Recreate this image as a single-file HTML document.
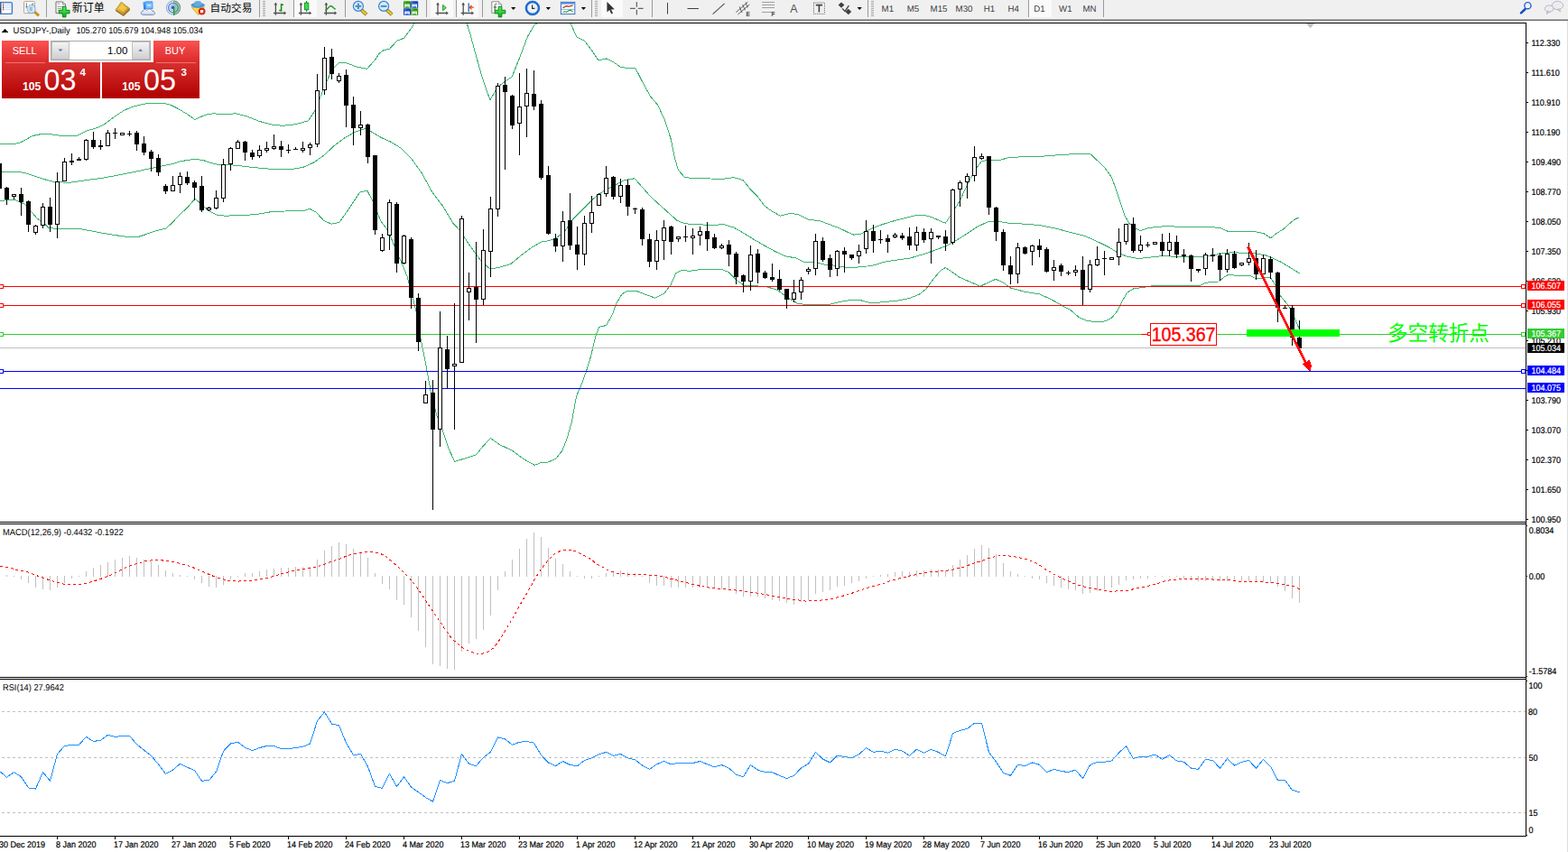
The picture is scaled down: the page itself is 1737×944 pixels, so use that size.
<!DOCTYPE html>
<html><head><meta charset="utf-8"><title>USDJPY Daily</title>
<style>
html,body{margin:0;padding:0;background:#fff;}
body{width:1737px;height:944px;position:relative;overflow:hidden;font-family:"Liberation Sans", sans-serif;}
.tb{position:absolute;left:0;top:0;width:1737px;height:20px;background:#f0f0f0;}
.tbl{position:absolute;left:0;width:1737px;height:1px;}
.rb{position:absolute;top:23px;width:1px;height:921px;}
</style></head><body>
<div class="tb"></div>
<div class="tbl" style="top:20px;background:#f4f4f4"></div>
<div class="tbl" style="top:21px;background:#b0b0b0"></div>
<div class="tbl" style="top:22px;background:#6c6c6c"></div>
<div class="rb" style="left:1735px;background:#fbfbfb"></div>
<div class="rb" style="left:1736px;background:#e0e0e0"></div>
<svg width="1737" height="944" viewBox="0 0 1737 944" style="position:absolute;left:0;top:0" font-family='"Liberation Sans", sans-serif' font-size="9">
<defs><clipPath id="c1"><rect x="0" y="26" width="1690" height="552"/></clipPath></defs>
<g clip-path="url(#c1)">
<path d="M0 159 L9 159 L18 159 L23.4 157.7 L36 150.5 L45 148.7 L54 148.4 L72 151 L86.4 150 L95.4 145.1 L108 141.5 L115.2 137.9 L126 129.8 L136.8 122.6 L147.6 118.1 L158.4 115.4 L169.2 114 L180 114 L189 116.3 L198 120.8 L207 126.2 L216 132.5 L226.8 127.5 L235.8 125.8 L248.4 126.6 L261.4 125.8 L272.9 128.7 L287.2 134.4 L301.5 138.1 L312.9 139.3 L327.2 137.8 L341.5 133.8 L348.7 123 L359.6 95.8 L367.6 77.2 L375.9 69.2 L384.4 70 L395.9 74.3 L406.7 76.3 L415.9 65.7 L420 59.6 L423.5 56.5 L425.5 55.4 L431.4 54.4 L435.2 50.3 L439.3 45.4 L443.5 43.7 L447.6 42.3 L451.8 36.4 L455.9 30.9 L458.7 26 L462 19 L480 -20 L500 -10 L516.9 25 L520.9 37.8 L525 53 L529.2 68.2 L533.3 82.7 L535.8 90.8 L542.9 110.8 L551.5 96.5 L558.6 90.8 L567.2 85.1 L575.8 63.6 L584.4 40.7 L591.5 28.4 L595.8 25 L605 5 L620 5 L631.6 25 L638.7 40.7 L647.3 45 L655.9 56.5 L663 67 L671.6 65 L680.2 69.3 L687.4 74.2 L697.4 75.9 L703.7 75.1 L711.7 90.8 L720.3 106.5 L728.8 116.5 L736 132.3 L743.1 153.7 L747.2 174.3 L751.5 188.6 L758.6 196.6 L773 197.8 L787.3 198 L798.7 198.6 L813 196.6 L823 199.5 L831.6 210.1 L838.7 217.2 L847.3 228.6 L855.9 234.4 L864.5 239.2 L875.9 236.4 L884.5 237.8 L895.9 243.5 L907.4 244.4 L918.8 248.7 L930.3 253 L941.7 258.5 L945.7 260.1 L952.9 259.6 L962.9 254.4 L977.2 248.7 L991.5 244.4 L1005.8 240.7 L1017.2 238.1 L1028.7 239.3 L1038.7 243.5 L1047.3 247.3 L1053 238.7 L1063 223 L1071.6 204.4 L1080.2 188.6 L1087.3 178.6 L1095.9 177.2 L1105.9 177.8 L1118.8 174.3 L1134.5 173.8 L1151.7 173.5 L1168.8 172 L1186 170.9 L1195.8 170.1 L1207.2 170.1 L1211 173.5 L1223.7 185.6 L1231.4 196.4 L1236.3 209.7 L1241.2 224.4 L1246 239 L1250.9 247.5 L1257 252.4 L1263.1 255.6 L1272.8 252.4 L1285 251.2 L1294.8 250 L1307 251.9 L1319.1 251.7 L1331.3 251.7 L1343.5 251.7 L1353.3 253.1 L1360.6 256.5 L1375.2 256.8 L1389.8 256.5 L1399.6 258.5 L1407.6 263.8 L1414.2 258.5 L1421.5 254.1 L1428.8 247.5 L1434.9 242.6 L1439.5 240.9" fill="none" stroke="#3cb371" stroke-width="1" stroke-linejoin="round" shape-rendering="crispEdges"/>
<path d="M0 190.1 L18 190.1 L27 191.4 L45 197.3 L55.8 200.6 L63 201.8 L77.4 202.2 L95.4 199.7 L115.2 197 L135 193.2 L154.8 189.2 L167.4 186.5 L180 183.8 L190.8 181.7 L198 179.3 L207 177.5 L216 176.3 L225 177.5 L234 180.6 L241.2 182.4 L252 182.4 L264.3 183.6 L278.6 185.3 L292.9 186.7 L310.1 187.9 L324.4 187.3 L335.8 185.3 L347.3 180.2 L358.7 172.2 L370.1 161.6 L381.6 153 L393 146.4 L404.5 142.4 L410.2 145.3 L421.6 152.1 L433.1 157.3 L444.5 164.4 L455.9 176 L467.4 192 L478.8 213 L490.3 228 L501.7 247 L510 256 L520.1 271.6 L531.5 287.3 L543 298.2 L554.4 295.9 L565.9 292.4 L577.3 283 L588.7 274.4 L600.2 267.8 L608.8 266.7 L617.3 263 L625.9 255.8 L634.5 243 L645.9 231.5 L657.4 220.1 L668.8 211.5 L680.3 205.8 L691.7 199.5 L702.9 197.8 L710 205.8 L721.5 218.6 L735.8 231.5 L750.1 244.4 L758.6 247.8 L773 248.7 L787.3 249.5 L801.6 248.7 L813 252.1 L824.4 258.7 L835.9 265.8 L847.3 272.4 L858.8 278.7 L870.2 283.9 L881.6 285.9 L890.2 290.1 L901.7 290.1 L913.1 293 L927.4 294.4 L938.9 296.7 L951.4 295.9 L965.7 294.5 L980 290.2 L994.3 287.9 L1008.6 285.9 L1023 281.6 L1037.3 276.7 L1048.7 272.2 L1060.1 265.9 L1071.6 258.7 L1083 251 L1094.5 245.8 L1104.5 245 L1117.3 247.3 L1134.5 248.1 L1151.7 249.6 L1168.8 253 L1183.1 256.7 L1199.7 260.9 L1209.5 264.6 L1219.2 269.4 L1229 274.3 L1238.7 280.4 L1248.5 284.1 L1260.7 286.5 L1272.8 285.3 L1287.5 283.6 L1299.6 284.1 L1314.3 284.6 L1328.9 284.6 L1341.1 283.3 L1353.3 280.9 L1365.4 279.7 L1380.1 280.4 L1392.2 281.1 L1402 282.8 L1409.3 285.8 L1419 290.2 L1428.8 296.2 L1439.5 302.8" fill="none" stroke="#3cb371" stroke-width="1" stroke-linejoin="round" shape-rendering="crispEdges"/>
<path d="M0 222.5 L9 221.6 L18 222 L27 226.1 L36 236 L41.4 242.4 L48.6 246.9 L54 252.3 L63 253.5 L88.2 253.5 L99 255.5 L115.2 258.6 L129.6 260.9 L142.2 262.5 L153 262.5 L162 259.5 L171 256.2 L183.6 253.2 L190.8 246.9 L198 238.8 L207 230.7 L216 220.2 L223.2 226.1 L230.4 233 L239.4 237.9 L248.4 239.1 L267.2 238.8 L284.3 237.4 L301.5 234.5 L318.6 233.9 L335.8 233.9 L343 231.1 L350.1 235.1 L358.7 244.5 L367.3 248.2 L375.9 246.5 L387.3 230.2 L398.7 213 L406.7 211 L413 223.1 L421.6 244.5 L430.2 256 L438.8 277.4 L445.7 293 L451.4 307.3 L457.2 330.2 L461.2 345.9 L466.5 377.7 L471.8 404.2 L477.1 433.3 L483.7 459.8 L490.3 477 L496.9 496.8 L503.6 511.4 L516.8 507.4 L527.4 504 L535.3 494.2 L543.3 485.5 L553.9 492.9 L567.1 499 L580.4 508.8 L592.3 515.4 L598.9 512.7 L606.8 512.2 L616.1 508 L622.7 499.5 L628 486.3 L633.3 467.7 L638.6 438.6 L643.9 426.7 L649.2 412.1 L654.5 394.9 L659.8 372.4 L663.8 362.3 L671.7 360.5 L678.3 348.5 L683.1 335.9 L688.9 325.9 L695.7 322.2 L704.3 322.2 L715.7 326.5 L725.8 330.2 L735.8 325 L742.9 315.9 L748.6 303 L754.4 299.6 L764.4 300.2 L775.8 298.7 L787.3 298.2 L798.7 298.2 L807.3 301.6 L815.9 310.2 L824.4 316.5 L837.3 316.8 L850.2 317.9 L861.6 321.6 L873.1 330.2 L884.5 336.8 L896 337.3 L918.8 337.3 L930.3 334.5 L941.7 332.5 L951.4 332.2 L965.7 335.9 L980 334.5 L994.3 333.1 L1008.6 330.2 L1018.7 325.9 L1025.8 320.2 L1034.4 308.8 L1041.5 300.2 L1047.3 296.5 L1053 300.2 L1063 307.3 L1074.4 312.2 L1085.9 317.3 L1094.5 313.1 L1103 309.3 L1111.6 313.1 L1118.8 318.8 L1134.5 323.1 L1151.7 325.9 L1163.1 331.1 L1174.6 337.4 L1186 343.7 L1196.1 352.3 L1204.6 355.5 L1214.4 356.7 L1224.1 355.9 L1231.4 352.3 L1237.5 345 L1242.4 335.2 L1248.5 324.3 L1255.8 319.9 L1268 318.2 L1277.7 316.5 L1328.8 316.5 L1333.6 314.2 L1341.2 312.2 L1350 312 L1355.7 307.2 L1360.6 304.3 L1370.3 305.3 L1384.6 305.3 L1391 308.6 L1398.6 308.6 L1403 307.4 L1407.5 307.4 L1413.2 316.6 L1415.4 324.3 L1421.5 331.6 L1427.6 338.9 L1433.7 351.1 L1439.5 365" fill="none" stroke="#3cb371" stroke-width="1" stroke-linejoin="round" shape-rendering="crispEdges"/>
</g>
<g shape-rendering="crispEdges">
<rect x="0" y="317" width="1690" height="1" fill="#ff0000"/>
<rect x="0" y="338" width="1690" height="1" fill="#ff0000"/>
<rect x="0" y="370" width="1690" height="1" fill="#32cd32"/>
<rect x="0" y="385" width="1690" height="1" fill="#c0c0c0"/>
<rect x="0" y="411" width="1690" height="1" fill="#0000ff"/>
<rect x="0" y="430" width="1690" height="1" fill="#0000ff"/>
</g>
<g shape-rendering="crispEdges" fill="#000">
<rect x="-1" y="181" width="1" height="28"/>
<rect x="-3" y="181" width="5" height="28"/>
<rect x="7" y="207" width="1" height="20"/>
<rect x="5" y="208" width="5" height="13"/>
<rect x="15" y="215" width="1" height="6"/>
<rect x="13" y="215" width="5" height="3"/>
<rect x="14" y="216" width="3" height="1" fill="#fff"/>
<rect x="23" y="208" width="1" height="31"/>
<rect x="21" y="215" width="5" height="9"/>
<rect x="31" y="222" width="1" height="35"/>
<rect x="29" y="223" width="5" height="26"/>
<rect x="39" y="249" width="1" height="11"/>
<rect x="37" y="250" width="5" height="8"/>
<rect x="38" y="251" width="3" height="6" fill="#fff"/>
<rect x="47" y="225" width="1" height="28"/>
<rect x="45" y="229" width="5" height="21"/>
<rect x="46" y="230" width="3" height="19" fill="#fff"/>
<rect x="55" y="219" width="1" height="38"/>
<rect x="53" y="229" width="5" height="20"/>
<rect x="63" y="191" width="1" height="73"/>
<rect x="61" y="201" width="5" height="48"/>
<rect x="62" y="202" width="3" height="46" fill="#fff"/>
<rect x="71" y="175" width="1" height="26"/>
<rect x="69" y="179" width="5" height="22"/>
<rect x="70" y="180" width="3" height="20" fill="#fff"/>
<rect x="79" y="170" width="1" height="13"/>
<rect x="77" y="178" width="5" height="2"/>
<rect x="87" y="174" width="1" height="4"/>
<rect x="85" y="176" width="5" height="2"/>
<rect x="95" y="154" width="1" height="24"/>
<rect x="93" y="155" width="5" height="22"/>
<rect x="94" y="156" width="3" height="20" fill="#fff"/>
<rect x="103" y="146" width="1" height="19"/>
<rect x="101" y="155" width="5" height="8"/>
<rect x="111" y="155" width="1" height="11"/>
<rect x="109" y="161" width="5" height="2"/>
<rect x="119" y="144" width="1" height="18"/>
<rect x="117" y="147" width="5" height="15"/>
<rect x="118" y="148" width="3" height="13" fill="#fff"/>
<rect x="127" y="142" width="1" height="12"/>
<rect x="125" y="147" width="5" height="1"/>
<rect x="135" y="147" width="1" height="3"/>
<rect x="133" y="147" width="5" height="3"/>
<rect x="134" y="148" width="3" height="1" fill="#fff"/>
<rect x="143" y="145" width="1" height="6"/>
<rect x="141" y="148" width="5" height="1"/>
<rect x="151" y="145" width="1" height="22"/>
<rect x="149" y="147" width="5" height="13"/>
<rect x="159" y="151" width="1" height="21"/>
<rect x="157" y="159" width="5" height="10"/>
<rect x="167" y="166" width="1" height="24"/>
<rect x="165" y="168" width="5" height="8"/>
<rect x="175" y="171" width="1" height="24"/>
<rect x="173" y="175" width="5" height="16"/>
<rect x="183" y="204" width="1" height="11"/>
<rect x="181" y="206" width="5" height="6"/>
<rect x="191" y="195" width="1" height="17"/>
<rect x="189" y="205" width="5" height="7"/>
<rect x="190" y="206" width="3" height="5" fill="#fff"/>
<rect x="199" y="191" width="1" height="23"/>
<rect x="197" y="195" width="5" height="10"/>
<rect x="198" y="196" width="3" height="8" fill="#fff"/>
<rect x="207" y="190" width="1" height="15"/>
<rect x="205" y="196" width="5" height="7"/>
<rect x="215" y="200" width="1" height="22"/>
<rect x="213" y="202" width="5" height="6"/>
<rect x="223" y="195" width="1" height="40"/>
<rect x="221" y="206" width="5" height="27"/>
<rect x="231" y="229" width="1" height="5"/>
<rect x="229" y="230" width="5" height="3"/>
<rect x="230" y="231" width="3" height="1" fill="#fff"/>
<rect x="239" y="211" width="1" height="21"/>
<rect x="237" y="219" width="5" height="12"/>
<rect x="238" y="220" width="3" height="10" fill="#fff"/>
<rect x="247" y="176" width="1" height="48"/>
<rect x="245" y="182" width="5" height="38"/>
<rect x="246" y="183" width="3" height="36" fill="#fff"/>
<rect x="255" y="163" width="1" height="26"/>
<rect x="253" y="164" width="5" height="18"/>
<rect x="254" y="165" width="3" height="16" fill="#fff"/>
<rect x="263" y="155" width="1" height="10"/>
<rect x="261" y="157" width="5" height="8"/>
<rect x="262" y="158" width="3" height="6" fill="#fff"/>
<rect x="271" y="156" width="1" height="22"/>
<rect x="269" y="157" width="5" height="12"/>
<rect x="279" y="166" width="1" height="11"/>
<rect x="277" y="169" width="5" height="5"/>
<rect x="287" y="161" width="1" height="14"/>
<rect x="285" y="166" width="5" height="7"/>
<rect x="286" y="167" width="3" height="5" fill="#fff"/>
<rect x="295" y="157" width="1" height="12"/>
<rect x="293" y="164" width="5" height="3"/>
<rect x="294" y="165" width="3" height="1" fill="#fff"/>
<rect x="303" y="149" width="1" height="17"/>
<rect x="301" y="162" width="5" height="3"/>
<rect x="302" y="163" width="3" height="1" fill="#fff"/>
<rect x="311" y="156" width="1" height="18"/>
<rect x="309" y="162" width="5" height="4"/>
<rect x="319" y="160" width="1" height="10"/>
<rect x="317" y="166" width="5" height="1"/>
<rect x="327" y="163" width="1" height="3"/>
<rect x="325" y="165" width="5" height="1"/>
<rect x="335" y="157" width="1" height="12"/>
<rect x="333" y="164" width="5" height="3"/>
<rect x="334" y="165" width="3" height="1" fill="#fff"/>
<rect x="343" y="158" width="1" height="14"/>
<rect x="341" y="160" width="5" height="4"/>
<rect x="342" y="161" width="3" height="2" fill="#fff"/>
<rect x="351" y="82" width="1" height="81"/>
<rect x="349" y="100" width="5" height="60"/>
<rect x="350" y="101" width="3" height="58" fill="#fff"/>
<rect x="359" y="52" width="1" height="53"/>
<rect x="357" y="64" width="5" height="36"/>
<rect x="358" y="65" width="3" height="34" fill="#fff"/>
<rect x="367" y="54" width="1" height="34"/>
<rect x="365" y="63" width="5" height="19"/>
<rect x="375" y="81" width="1" height="11"/>
<rect x="373" y="84" width="5" height="6"/>
<rect x="374" y="85" width="3" height="4" fill="#fff"/>
<rect x="383" y="77" width="1" height="64"/>
<rect x="381" y="83" width="5" height="34"/>
<rect x="391" y="107" width="1" height="54"/>
<rect x="389" y="116" width="5" height="26"/>
<rect x="399" y="123" width="1" height="27"/>
<rect x="397" y="138" width="5" height="4"/>
<rect x="398" y="139" width="3" height="2" fill="#fff"/>
<rect x="407" y="137" width="1" height="44"/>
<rect x="405" y="138" width="5" height="36"/>
<rect x="415" y="172" width="1" height="88"/>
<rect x="413" y="172" width="5" height="83"/>
<rect x="423" y="259" width="1" height="20"/>
<rect x="421" y="263" width="5" height="15"/>
<rect x="422" y="264" width="3" height="13" fill="#fff"/>
<rect x="431" y="221" width="1" height="56"/>
<rect x="429" y="224" width="5" height="37"/>
<rect x="430" y="225" width="3" height="35" fill="#fff"/>
<rect x="439" y="224" width="1" height="78"/>
<rect x="437" y="226" width="5" height="66"/>
<rect x="447" y="260" width="1" height="33"/>
<rect x="445" y="261" width="5" height="31"/>
<rect x="446" y="262" width="3" height="29" fill="#fff"/>
<rect x="455" y="263" width="1" height="79"/>
<rect x="453" y="265" width="5" height="65"/>
<rect x="463" y="325" width="1" height="64"/>
<rect x="461" y="330" width="5" height="49"/>
<rect x="471" y="422" width="1" height="25"/>
<rect x="469" y="437" width="5" height="10"/>
<rect x="470" y="438" width="3" height="8" fill="#fff"/>
<rect x="479" y="421" width="1" height="144"/>
<rect x="477" y="435" width="5" height="41"/>
<rect x="487" y="345" width="1" height="150"/>
<rect x="485" y="385" width="5" height="91"/>
<rect x="486" y="386" width="3" height="89" fill="#fff"/>
<rect x="495" y="372" width="1" height="58"/>
<rect x="493" y="387" width="5" height="22"/>
<rect x="503" y="336" width="1" height="140"/>
<rect x="501" y="403" width="5" height="3"/>
<rect x="502" y="404" width="3" height="1" fill="#fff"/>
<rect x="511" y="239" width="1" height="163"/>
<rect x="509" y="242" width="5" height="160"/>
<rect x="510" y="243" width="3" height="158" fill="#fff"/>
<rect x="519" y="302" width="1" height="53"/>
<rect x="517" y="319" width="5" height="5"/>
<rect x="518" y="320" width="3" height="3" fill="#fff"/>
<rect x="527" y="268" width="1" height="112"/>
<rect x="525" y="318" width="5" height="14"/>
<rect x="535" y="254" width="1" height="84"/>
<rect x="533" y="277" width="5" height="55"/>
<rect x="534" y="278" width="3" height="53" fill="#fff"/>
<rect x="543" y="218" width="1" height="89"/>
<rect x="541" y="231" width="5" height="48"/>
<rect x="542" y="232" width="3" height="46" fill="#fff"/>
<rect x="551" y="92" width="1" height="148"/>
<rect x="549" y="95" width="5" height="137"/>
<rect x="550" y="96" width="3" height="135" fill="#fff"/>
<rect x="559" y="85" width="1" height="103"/>
<rect x="557" y="94" width="5" height="8"/>
<rect x="567" y="105" width="1" height="38"/>
<rect x="565" y="106" width="5" height="33"/>
<rect x="575" y="81" width="1" height="91"/>
<rect x="573" y="118" width="5" height="19"/>
<rect x="574" y="119" width="3" height="17" fill="#fff"/>
<rect x="583" y="76" width="1" height="76"/>
<rect x="581" y="103" width="5" height="15"/>
<rect x="582" y="104" width="3" height="13" fill="#fff"/>
<rect x="591" y="78" width="1" height="44"/>
<rect x="589" y="104" width="5" height="14"/>
<rect x="599" y="111" width="1" height="88"/>
<rect x="597" y="115" width="5" height="82"/>
<rect x="607" y="184" width="1" height="76"/>
<rect x="605" y="194" width="5" height="65"/>
<rect x="615" y="259" width="1" height="20"/>
<rect x="613" y="264" width="5" height="9"/>
<rect x="623" y="234" width="1" height="56"/>
<rect x="621" y="245" width="5" height="28"/>
<rect x="622" y="246" width="3" height="26" fill="#fff"/>
<rect x="631" y="214" width="1" height="63"/>
<rect x="629" y="244" width="5" height="28"/>
<rect x="639" y="251" width="1" height="48"/>
<rect x="637" y="271" width="5" height="11"/>
<rect x="647" y="239" width="1" height="55"/>
<rect x="645" y="247" width="5" height="35"/>
<rect x="646" y="248" width="3" height="33" fill="#fff"/>
<rect x="655" y="217" width="1" height="41"/>
<rect x="653" y="235" width="5" height="13"/>
<rect x="654" y="236" width="3" height="11" fill="#fff"/>
<rect x="663" y="214" width="1" height="14"/>
<rect x="661" y="215" width="5" height="13"/>
<rect x="662" y="216" width="3" height="11" fill="#fff"/>
<rect x="671" y="184" width="1" height="34"/>
<rect x="669" y="197" width="5" height="18"/>
<rect x="670" y="198" width="3" height="16" fill="#fff"/>
<rect x="679" y="195" width="1" height="26"/>
<rect x="677" y="196" width="5" height="22"/>
<rect x="687" y="198" width="1" height="27"/>
<rect x="685" y="205" width="5" height="13"/>
<rect x="686" y="206" width="3" height="11" fill="#fff"/>
<rect x="695" y="199" width="1" height="40"/>
<rect x="693" y="205" width="5" height="24"/>
<rect x="703" y="230" width="1" height="7"/>
<rect x="701" y="231" width="5" height="1"/>
<rect x="711" y="230" width="1" height="42"/>
<rect x="709" y="232" width="5" height="33"/>
<rect x="719" y="259" width="1" height="37"/>
<rect x="717" y="265" width="5" height="25"/>
<rect x="727" y="255" width="1" height="44"/>
<rect x="725" y="266" width="5" height="24"/>
<rect x="726" y="267" width="3" height="22" fill="#fff"/>
<rect x="735" y="244" width="1" height="44"/>
<rect x="733" y="252" width="5" height="15"/>
<rect x="734" y="253" width="3" height="13" fill="#fff"/>
<rect x="743" y="250" width="1" height="32"/>
<rect x="741" y="251" width="5" height="17"/>
<rect x="751" y="262" width="1" height="6"/>
<rect x="749" y="262" width="5" height="3"/>
<rect x="750" y="263" width="3" height="1" fill="#fff"/>
<rect x="759" y="250" width="1" height="18"/>
<rect x="757" y="262" width="5" height="1"/>
<rect x="767" y="253" width="1" height="29"/>
<rect x="765" y="261" width="5" height="3"/>
<rect x="766" y="262" width="3" height="1" fill="#fff"/>
<rect x="775" y="251" width="1" height="21"/>
<rect x="773" y="256" width="5" height="5"/>
<rect x="774" y="257" width="3" height="3" fill="#fff"/>
<rect x="783" y="246" width="1" height="32"/>
<rect x="781" y="256" width="5" height="9"/>
<rect x="791" y="259" width="1" height="17"/>
<rect x="789" y="263" width="5" height="12"/>
<rect x="799" y="270" width="1" height="6"/>
<rect x="797" y="272" width="5" height="3"/>
<rect x="798" y="273" width="3" height="1" fill="#fff"/>
<rect x="807" y="266" width="1" height="29"/>
<rect x="805" y="271" width="5" height="11"/>
<rect x="815" y="279" width="1" height="36"/>
<rect x="813" y="281" width="5" height="26"/>
<rect x="823" y="304" width="1" height="20"/>
<rect x="821" y="305" width="5" height="7"/>
<rect x="831" y="272" width="1" height="50"/>
<rect x="829" y="282" width="5" height="30"/>
<rect x="830" y="283" width="3" height="28" fill="#fff"/>
<rect x="839" y="276" width="1" height="38"/>
<rect x="837" y="281" width="5" height="21"/>
<rect x="847" y="300" width="1" height="9"/>
<rect x="845" y="302" width="5" height="6"/>
<rect x="855" y="292" width="1" height="20"/>
<rect x="853" y="307" width="5" height="3"/>
<rect x="863" y="299" width="1" height="23"/>
<rect x="861" y="309" width="5" height="12"/>
<rect x="871" y="320" width="1" height="22"/>
<rect x="869" y="320" width="5" height="12"/>
<rect x="879" y="310" width="1" height="25"/>
<rect x="877" y="324" width="5" height="8"/>
<rect x="878" y="325" width="3" height="6" fill="#fff"/>
<rect x="887" y="307" width="1" height="25"/>
<rect x="885" y="310" width="5" height="14"/>
<rect x="886" y="311" width="3" height="12" fill="#fff"/>
<rect x="895" y="296" width="1" height="8"/>
<rect x="893" y="298" width="5" height="3"/>
<rect x="894" y="299" width="3" height="1" fill="#fff"/>
<rect x="903" y="259" width="1" height="46"/>
<rect x="901" y="267" width="5" height="31"/>
<rect x="902" y="268" width="3" height="29" fill="#fff"/>
<rect x="911" y="263" width="1" height="27"/>
<rect x="909" y="267" width="5" height="21"/>
<rect x="919" y="282" width="1" height="25"/>
<rect x="917" y="286" width="5" height="13"/>
<rect x="927" y="277" width="1" height="29"/>
<rect x="925" y="278" width="5" height="20"/>
<rect x="926" y="279" width="3" height="18" fill="#fff"/>
<rect x="935" y="274" width="1" height="28"/>
<rect x="933" y="278" width="5" height="4"/>
<rect x="943" y="282" width="1" height="6"/>
<rect x="941" y="282" width="5" height="4"/>
<rect x="951" y="271" width="1" height="21"/>
<rect x="949" y="278" width="5" height="6"/>
<rect x="950" y="279" width="3" height="4" fill="#fff"/>
<rect x="959" y="244" width="1" height="37"/>
<rect x="957" y="256" width="5" height="20"/>
<rect x="958" y="257" width="3" height="18" fill="#fff"/>
<rect x="967" y="249" width="1" height="31"/>
<rect x="965" y="256" width="5" height="11"/>
<rect x="975" y="255" width="1" height="15"/>
<rect x="973" y="265" width="5" height="1"/>
<rect x="983" y="260" width="1" height="20"/>
<rect x="981" y="264" width="5" height="4"/>
<rect x="991" y="258" width="1" height="6"/>
<rect x="989" y="260" width="5" height="3"/>
<rect x="990" y="261" width="3" height="1" fill="#fff"/>
<rect x="999" y="258" width="1" height="8"/>
<rect x="997" y="261" width="5" height="3"/>
<rect x="1007" y="252" width="1" height="25"/>
<rect x="1005" y="262" width="5" height="10"/>
<rect x="1015" y="251" width="1" height="27"/>
<rect x="1013" y="257" width="5" height="15"/>
<rect x="1014" y="258" width="3" height="13" fill="#fff"/>
<rect x="1023" y="253" width="1" height="16"/>
<rect x="1021" y="257" width="5" height="9"/>
<rect x="1031" y="253" width="1" height="39"/>
<rect x="1029" y="257" width="5" height="8"/>
<rect x="1030" y="258" width="3" height="6" fill="#fff"/>
<rect x="1039" y="261" width="1" height="4"/>
<rect x="1037" y="261" width="5" height="2"/>
<rect x="1047" y="255" width="1" height="23"/>
<rect x="1045" y="262" width="5" height="8"/>
<rect x="1055" y="209" width="1" height="62"/>
<rect x="1053" y="210" width="5" height="59"/>
<rect x="1054" y="211" width="3" height="57" fill="#fff"/>
<rect x="1063" y="200" width="1" height="29"/>
<rect x="1061" y="202" width="5" height="8"/>
<rect x="1062" y="203" width="3" height="6" fill="#fff"/>
<rect x="1071" y="192" width="1" height="28"/>
<rect x="1069" y="195" width="5" height="7"/>
<rect x="1070" y="196" width="3" height="5" fill="#fff"/>
<rect x="1079" y="162" width="1" height="39"/>
<rect x="1077" y="174" width="5" height="21"/>
<rect x="1078" y="175" width="3" height="19" fill="#fff"/>
<rect x="1087" y="170" width="1" height="7"/>
<rect x="1085" y="173" width="5" height="3"/>
<rect x="1086" y="174" width="3" height="1" fill="#fff"/>
<rect x="1095" y="173" width="1" height="65"/>
<rect x="1093" y="173" width="5" height="57"/>
<rect x="1103" y="229" width="1" height="38"/>
<rect x="1101" y="230" width="5" height="27"/>
<rect x="1111" y="254" width="1" height="46"/>
<rect x="1109" y="257" width="5" height="37"/>
<rect x="1119" y="284" width="1" height="31"/>
<rect x="1117" y="294" width="5" height="10"/>
<rect x="1127" y="269" width="1" height="45"/>
<rect x="1125" y="274" width="5" height="30"/>
<rect x="1126" y="275" width="3" height="28" fill="#fff"/>
<rect x="1135" y="273" width="1" height="9"/>
<rect x="1133" y="274" width="5" height="7"/>
<rect x="1143" y="271" width="1" height="23"/>
<rect x="1141" y="272" width="5" height="7"/>
<rect x="1142" y="273" width="3" height="5" fill="#fff"/>
<rect x="1151" y="265" width="1" height="20"/>
<rect x="1149" y="272" width="5" height="5"/>
<rect x="1159" y="274" width="1" height="28"/>
<rect x="1157" y="276" width="5" height="25"/>
<rect x="1167" y="288" width="1" height="23"/>
<rect x="1165" y="296" width="5" height="4"/>
<rect x="1166" y="297" width="3" height="2" fill="#fff"/>
<rect x="1175" y="292" width="1" height="14"/>
<rect x="1173" y="294" width="5" height="7"/>
<rect x="1183" y="300" width="1" height="5"/>
<rect x="1181" y="302" width="5" height="1"/>
<rect x="1191" y="294" width="1" height="12"/>
<rect x="1189" y="299" width="5" height="3"/>
<rect x="1190" y="300" width="3" height="1" fill="#fff"/>
<rect x="1199" y="284" width="1" height="54"/>
<rect x="1197" y="299" width="5" height="22"/>
<rect x="1207" y="288" width="1" height="36"/>
<rect x="1205" y="293" width="5" height="28"/>
<rect x="1206" y="294" width="3" height="26" fill="#fff"/>
<rect x="1215" y="273" width="1" height="22"/>
<rect x="1213" y="287" width="5" height="7"/>
<rect x="1214" y="288" width="3" height="5" fill="#fff"/>
<rect x="1223" y="278" width="1" height="27"/>
<rect x="1221" y="286" width="5" height="1"/>
<rect x="1231" y="285" width="1" height="3"/>
<rect x="1229" y="285" width="5" height="3"/>
<rect x="1230" y="286" width="3" height="1" fill="#fff"/>
<rect x="1239" y="253" width="1" height="41"/>
<rect x="1237" y="268" width="5" height="17"/>
<rect x="1238" y="269" width="3" height="15" fill="#fff"/>
<rect x="1247" y="248" width="1" height="23"/>
<rect x="1245" y="248" width="5" height="20"/>
<rect x="1246" y="249" width="3" height="18" fill="#fff"/>
<rect x="1255" y="241" width="1" height="39"/>
<rect x="1253" y="248" width="5" height="30"/>
<rect x="1263" y="261" width="1" height="19"/>
<rect x="1261" y="271" width="5" height="7"/>
<rect x="1262" y="272" width="3" height="5" fill="#fff"/>
<rect x="1271" y="268" width="1" height="6"/>
<rect x="1269" y="271" width="5" height="1"/>
<rect x="1279" y="268" width="1" height="3"/>
<rect x="1277" y="268" width="5" height="3"/>
<rect x="1278" y="269" width="3" height="1" fill="#fff"/>
<rect x="1287" y="259" width="1" height="25"/>
<rect x="1285" y="268" width="5" height="10"/>
<rect x="1295" y="258" width="1" height="26"/>
<rect x="1293" y="268" width="5" height="10"/>
<rect x="1294" y="269" width="3" height="8" fill="#fff"/>
<rect x="1303" y="261" width="1" height="25"/>
<rect x="1301" y="268" width="5" height="14"/>
<rect x="1311" y="276" width="1" height="15"/>
<rect x="1309" y="282" width="5" height="2"/>
<rect x="1319" y="282" width="1" height="30"/>
<rect x="1317" y="283" width="5" height="15"/>
<rect x="1327" y="298" width="1" height="4"/>
<rect x="1325" y="298" width="5" height="2"/>
<rect x="1335" y="280" width="1" height="25"/>
<rect x="1333" y="282" width="5" height="16"/>
<rect x="1334" y="283" width="3" height="14" fill="#fff"/>
<rect x="1343" y="275" width="1" height="15"/>
<rect x="1341" y="282" width="5" height="2"/>
<rect x="1351" y="280" width="1" height="31"/>
<rect x="1349" y="283" width="5" height="16"/>
<rect x="1359" y="276" width="1" height="26"/>
<rect x="1357" y="281" width="5" height="18"/>
<rect x="1358" y="282" width="3" height="16" fill="#fff"/>
<rect x="1367" y="278" width="1" height="20"/>
<rect x="1365" y="281" width="5" height="16"/>
<rect x="1375" y="291" width="1" height="4"/>
<rect x="1373" y="291" width="5" height="3"/>
<rect x="1374" y="292" width="3" height="1" fill="#fff"/>
<rect x="1383" y="269" width="1" height="25"/>
<rect x="1381" y="286" width="5" height="5"/>
<rect x="1382" y="287" width="3" height="3" fill="#fff"/>
<rect x="1391" y="277" width="1" height="33"/>
<rect x="1389" y="286" width="5" height="18"/>
<rect x="1399" y="282" width="1" height="22"/>
<rect x="1397" y="286" width="5" height="18"/>
<rect x="1398" y="287" width="3" height="16" fill="#fff"/>
<rect x="1407" y="284" width="1" height="25"/>
<rect x="1405" y="287" width="5" height="15"/>
<rect x="1415" y="301" width="1" height="56"/>
<rect x="1413" y="302" width="5" height="39"/>
<rect x="1423" y="338" width="1" height="4"/>
<rect x="1421" y="341" width="5" height="1"/>
<rect x="1431" y="338" width="1" height="45"/>
<rect x="1429" y="341" width="5" height="33"/>
<rect x="1439" y="355" width="1" height="35"/>
<rect x="1437" y="374" width="5" height="12"/>
</g>
<g shape-rendering="crispEdges" fill="#c0c0c0">
<rect x="-1" y="637" width="1" height="2"/>
<rect x="7" y="637" width="1" height="2"/>
<rect x="15" y="638" width="1" height="1"/>
<rect x="23" y="638" width="1" height="4"/>
<rect x="31" y="638" width="1" height="8"/>
<rect x="39" y="638" width="1" height="13"/>
<rect x="47" y="638" width="1" height="15"/>
<rect x="55" y="638" width="1" height="16"/>
<rect x="63" y="638" width="1" height="13"/>
<rect x="71" y="638" width="1" height="8"/>
<rect x="79" y="638" width="1" height="3"/>
<rect x="87" y="638" width="1" height="1"/>
<rect x="95" y="633" width="1" height="6"/>
<rect x="103" y="629" width="1" height="10"/>
<rect x="111" y="626" width="1" height="13"/>
<rect x="119" y="623" width="1" height="16"/>
<rect x="127" y="620" width="1" height="19"/>
<rect x="135" y="618" width="1" height="21"/>
<rect x="143" y="616" width="1" height="23"/>
<rect x="151" y="618" width="1" height="21"/>
<rect x="159" y="620" width="1" height="19"/>
<rect x="167" y="622" width="1" height="17"/>
<rect x="175" y="626" width="1" height="13"/>
<rect x="183" y="632" width="1" height="7"/>
<rect x="191" y="635" width="1" height="4"/>
<rect x="199" y="637" width="1" height="2"/>
<rect x="207" y="638" width="1" height="1"/>
<rect x="215" y="638" width="1" height="4"/>
<rect x="223" y="638" width="1" height="8"/>
<rect x="231" y="638" width="1" height="12"/>
<rect x="239" y="638" width="1" height="13"/>
<rect x="247" y="638" width="1" height="10"/>
<rect x="255" y="638" width="1" height="4"/>
<rect x="263" y="638" width="1" height="1"/>
<rect x="271" y="635" width="1" height="4"/>
<rect x="279" y="635" width="1" height="4"/>
<rect x="287" y="633" width="1" height="6"/>
<rect x="295" y="631" width="1" height="8"/>
<rect x="303" y="630" width="1" height="9"/>
<rect x="311" y="629" width="1" height="10"/>
<rect x="319" y="629" width="1" height="10"/>
<rect x="327" y="628" width="1" height="11"/>
<rect x="335" y="628" width="1" height="11"/>
<rect x="343" y="628" width="1" height="11"/>
<rect x="351" y="620" width="1" height="19"/>
<rect x="359" y="610" width="1" height="29"/>
<rect x="367" y="605" width="1" height="34"/>
<rect x="375" y="601" width="1" height="38"/>
<rect x="383" y="603" width="1" height="36"/>
<rect x="391" y="608" width="1" height="31"/>
<rect x="399" y="611" width="1" height="28"/>
<rect x="407" y="618" width="1" height="21"/>
<rect x="415" y="635" width="1" height="4"/>
<rect x="423" y="638" width="1" height="9"/>
<rect x="431" y="638" width="1" height="15"/>
<rect x="439" y="638" width="1" height="27"/>
<rect x="447" y="638" width="1" height="32"/>
<rect x="455" y="638" width="1" height="46"/>
<rect x="463" y="638" width="1" height="61"/>
<rect x="471" y="638" width="1" height="79"/>
<rect x="479" y="638" width="1" height="98"/>
<rect x="487" y="638" width="1" height="100"/>
<rect x="495" y="638" width="1" height="103"/>
<rect x="503" y="638" width="1" height="104"/>
<rect x="511" y="638" width="1" height="84"/>
<rect x="519" y="638" width="1" height="75"/>
<rect x="527" y="638" width="1" height="70"/>
<rect x="535" y="638" width="1" height="60"/>
<rect x="543" y="638" width="1" height="44"/>
<rect x="551" y="638" width="1" height="16"/>
<rect x="559" y="633" width="1" height="6"/>
<rect x="567" y="620" width="1" height="19"/>
<rect x="575" y="608" width="1" height="31"/>
<rect x="583" y="597" width="1" height="42"/>
<rect x="591" y="590" width="1" height="49"/>
<rect x="599" y="595" width="1" height="44"/>
<rect x="607" y="607" width="1" height="32"/>
<rect x="615" y="619" width="1" height="20"/>
<rect x="623" y="625" width="1" height="14"/>
<rect x="631" y="633" width="1" height="6"/>
<rect x="639" y="638" width="1" height="1"/>
<rect x="647" y="638" width="1" height="3"/>
<rect x="655" y="638" width="1" height="3"/>
<rect x="663" y="638" width="1" height="1"/>
<rect x="671" y="635" width="1" height="4"/>
<rect x="679" y="633" width="1" height="6"/>
<rect x="687" y="632" width="1" height="7"/>
<rect x="695" y="634" width="1" height="5"/>
<rect x="703" y="635" width="1" height="4"/>
<rect x="711" y="638" width="1" height="1"/>
<rect x="719" y="638" width="1" height="8"/>
<rect x="727" y="638" width="1" height="11"/>
<rect x="735" y="638" width="1" height="11"/>
<rect x="743" y="638" width="1" height="13"/>
<rect x="751" y="638" width="1" height="13"/>
<rect x="759" y="638" width="1" height="13"/>
<rect x="767" y="638" width="1" height="13"/>
<rect x="775" y="638" width="1" height="13"/>
<rect x="783" y="638" width="1" height="13"/>
<rect x="791" y="638" width="1" height="13"/>
<rect x="799" y="638" width="1" height="15"/>
<rect x="807" y="638" width="1" height="16"/>
<rect x="815" y="638" width="1" height="20"/>
<rect x="823" y="638" width="1" height="23"/>
<rect x="831" y="638" width="1" height="23"/>
<rect x="839" y="638" width="1" height="23"/>
<rect x="847" y="638" width="1" height="25"/>
<rect x="855" y="638" width="1" height="27"/>
<rect x="863" y="638" width="1" height="28"/>
<rect x="871" y="638" width="1" height="30"/>
<rect x="879" y="638" width="1" height="32"/>
<rect x="887" y="638" width="1" height="29"/>
<rect x="895" y="638" width="1" height="27"/>
<rect x="903" y="638" width="1" height="20"/>
<rect x="911" y="638" width="1" height="18"/>
<rect x="919" y="638" width="1" height="16"/>
<rect x="927" y="638" width="1" height="12"/>
<rect x="935" y="638" width="1" height="11"/>
<rect x="943" y="638" width="1" height="8"/>
<rect x="951" y="638" width="1" height="6"/>
<rect x="959" y="638" width="1" height="3"/>
<rect x="967" y="638" width="1" height="1"/>
<rect x="975" y="637" width="1" height="2"/>
<rect x="983" y="636" width="1" height="3"/>
<rect x="991" y="634" width="1" height="5"/>
<rect x="999" y="633" width="1" height="6"/>
<rect x="1007" y="634" width="1" height="5"/>
<rect x="1015" y="632" width="1" height="7"/>
<rect x="1023" y="632" width="1" height="7"/>
<rect x="1031" y="631" width="1" height="8"/>
<rect x="1039" y="631" width="1" height="8"/>
<rect x="1047" y="632" width="1" height="7"/>
<rect x="1055" y="626" width="1" height="13"/>
<rect x="1063" y="620" width="1" height="19"/>
<rect x="1071" y="615" width="1" height="24"/>
<rect x="1079" y="608" width="1" height="31"/>
<rect x="1087" y="604" width="1" height="35"/>
<rect x="1095" y="607" width="1" height="32"/>
<rect x="1103" y="614" width="1" height="25"/>
<rect x="1111" y="624" width="1" height="15"/>
<rect x="1119" y="633" width="1" height="6"/>
<rect x="1127" y="636" width="1" height="3"/>
<rect x="1135" y="638" width="1" height="1"/>
<rect x="1143" y="638" width="1" height="3"/>
<rect x="1151" y="638" width="1" height="4"/>
<rect x="1159" y="638" width="1" height="8"/>
<rect x="1167" y="638" width="1" height="11"/>
<rect x="1175" y="638" width="1" height="13"/>
<rect x="1183" y="638" width="1" height="15"/>
<rect x="1191" y="638" width="1" height="16"/>
<rect x="1199" y="638" width="1" height="20"/>
<rect x="1207" y="638" width="1" height="19"/>
<rect x="1215" y="638" width="1" height="17"/>
<rect x="1223" y="638" width="1" height="15"/>
<rect x="1231" y="638" width="1" height="13"/>
<rect x="1239" y="638" width="1" height="10"/>
<rect x="1247" y="638" width="1" height="5"/>
<rect x="1255" y="638" width="1" height="4"/>
<rect x="1263" y="638" width="1" height="3"/>
<rect x="1271" y="638" width="1" height="3"/>
<rect x="1279" y="638" width="1" height="1"/>
<rect x="1287" y="638" width="1" height="1"/>
<rect x="1295" y="638" width="1" height="1"/>
<rect x="1303" y="638" width="1" height="1"/>
<rect x="1311" y="638" width="1" height="3"/>
<rect x="1319" y="638" width="1" height="5"/>
<rect x="1327" y="638" width="1" height="6"/>
<rect x="1335" y="638" width="1" height="6"/>
<rect x="1343" y="638" width="1" height="5"/>
<rect x="1351" y="638" width="1" height="6"/>
<rect x="1359" y="638" width="1" height="6"/>
<rect x="1367" y="638" width="1" height="6"/>
<rect x="1375" y="638" width="1" height="6"/>
<rect x="1383" y="638" width="1" height="6"/>
<rect x="1391" y="638" width="1" height="7"/>
<rect x="1399" y="638" width="1" height="7"/>
<rect x="1407" y="638" width="1" height="8"/>
<rect x="1415" y="638" width="1" height="12"/>
<rect x="1423" y="638" width="1" height="17"/>
<rect x="1431" y="638" width="1" height="25"/>
<rect x="1439" y="638" width="1" height="30"/>
</g>
<path d="M0 627.4 L10.1 628.7 L20.3 632 L30.4 633.8 L40.5 637.6 L50.7 641.4 L60.8 644.7 L70.9 647.2 L81.1 647.7 L91.2 647.2 L101.3 644.7 L111.4 641.4 L121.6 637.6 L131.7 632.8 L141.8 627.7 L152 624.4 L162.1 621.4 L172.2 620.6 L182.4 621.1 L192.5 622.4 L202.6 625.2 L212.8 628.2 L222.9 632.8 L233 637.1 L243.2 640.9 L253.3 643.4 L263.4 644.1 L273.6 643.6 L283.7 642.9 L293.8 640.9 L304 638.3 L314.1 635 L324.2 632.8 L334.3 630.7 L344.5 629.2 L354.6 626.9 L364.7 623.1 L374.9 619.8 L385 615.5 L395.1 613 L405.3 611.7 L415.4 611.7 L425.5 615 L430 618.6 L440.1 627.4 L450.3 637.1 L460.4 648.5 L470.5 663.7 L480.7 678.9 L490.8 694 L500.9 708 L511.1 716.8 L521.2 722.4 L531.3 724.9 L538.9 723.2 L546.5 718.1 L554.1 708 L561.7 695.3 L569.3 682.6 L576.9 668.7 L584.5 656.1 L592.1 642.1 L599.7 630.2 L607.3 620.6 L614.9 613 L622.5 609.7 L630.1 609.2 L637.7 611 L645.3 614.3 L652.9 618.6 L660.5 624.4 L668.1 628.7 L675.7 632.8 L683.3 635 L696 636.3 L708.6 636.6 L721.3 637.1 L734 638.8 L746.6 642.1 L759.3 645.2 L771.9 648.5 L784.6 651 L797.3 652.3 L809.9 653.5 L822.6 654.8 L835.3 656.6 L847.9 658.6 L860 661.1 L870.1 663.1 L880.3 664.4 L892.9 666.2 L905.6 665.4 L918.3 664.2 L930.9 661.1 L943.6 657.3 L956.3 653 L966.4 649.7 L976.5 647.2 L986.6 643.4 L996.8 640.9 L1006.9 638.3 L1017 636.3 L1027.2 634 L1037.3 633.3 L1047.4 632.5 L1057.6 630.7 L1067.7 628.2 L1077.8 624.4 L1088 621.4 L1098.1 617.6 L1108.2 615.5 L1118.4 616 L1128.5 617.6 L1138.6 620.1 L1148.8 624.4 L1158.9 631.2 L1169 637.1 L1179.1 642.1 L1189.3 646.4 L1199.4 649.7 L1209.5 651.7 L1219.7 654 L1229.8 655.3 L1239.9 654.8 L1250.1 654 L1260.2 651.7 L1270.3 649.7 L1280.5 647.2 L1290.6 643.9 L1297 642.6 L1307.1 641.6 L1322.3 641.6 L1347.7 642.1 L1362.9 642.9 L1373 644.1 L1388.2 644.7 L1408.4 645.2 L1418.6 646.7 L1428.7 649 L1435 650.2 L1439.4 652.8" fill="none" stroke="#ff0000" stroke-width="1" stroke-dasharray="3 3" stroke-linejoin="round" shape-rendering="crispEdges"/>
<g shape-rendering="crispEdges" fill="#c0c0c0">
<path d="M2 788.5h3M8 788.5h3M14 788.5h3M20 788.5h3M26 788.5h3M32 788.5h3M38 788.5h3M44 788.5h3M50 788.5h3M56 788.5h3M62 788.5h3M68 788.5h3M74 788.5h3M80 788.5h3M86 788.5h3M92 788.5h3M98 788.5h3M104 788.5h3M110 788.5h3M116 788.5h3M122 788.5h3M128 788.5h3M134 788.5h3M140 788.5h3M146 788.5h3M152 788.5h3M158 788.5h3M164 788.5h3M170 788.5h3M176 788.5h3M182 788.5h3M188 788.5h3M194 788.5h3M200 788.5h3M206 788.5h3M212 788.5h3M218 788.5h3M224 788.5h3M230 788.5h3M236 788.5h3M242 788.5h3M248 788.5h3M254 788.5h3M260 788.5h3M266 788.5h3M272 788.5h3M278 788.5h3M284 788.5h3M290 788.5h3M296 788.5h3M302 788.5h3M308 788.5h3M314 788.5h3M320 788.5h3M326 788.5h3M332 788.5h3M338 788.5h3M344 788.5h3M350 788.5h3M356 788.5h3M362 788.5h3M368 788.5h3M374 788.5h3M380 788.5h3M386 788.5h3M392 788.5h3M398 788.5h3M404 788.5h3M410 788.5h3M416 788.5h3M422 788.5h3M428 788.5h3M434 788.5h3M440 788.5h3M446 788.5h3M452 788.5h3M458 788.5h3M464 788.5h3M470 788.5h3M476 788.5h3M482 788.5h3M488 788.5h3M494 788.5h3M500 788.5h3M506 788.5h3M512 788.5h3M518 788.5h3M524 788.5h3M530 788.5h3M536 788.5h3M542 788.5h3M548 788.5h3M554 788.5h3M560 788.5h3M566 788.5h3M572 788.5h3M578 788.5h3M584 788.5h3M590 788.5h3M596 788.5h3M602 788.5h3M608 788.5h3M614 788.5h3M620 788.5h3M626 788.5h3M632 788.5h3M638 788.5h3M644 788.5h3M650 788.5h3M656 788.5h3M662 788.5h3M668 788.5h3M674 788.5h3M680 788.5h3M686 788.5h3M692 788.5h3M698 788.5h3M704 788.5h3M710 788.5h3M716 788.5h3M722 788.5h3M728 788.5h3M734 788.5h3M740 788.5h3M746 788.5h3M752 788.5h3M758 788.5h3M764 788.5h3M770 788.5h3M776 788.5h3M782 788.5h3M788 788.5h3M794 788.5h3M800 788.5h3M806 788.5h3M812 788.5h3M818 788.5h3M824 788.5h3M830 788.5h3M836 788.5h3M842 788.5h3M848 788.5h3M854 788.5h3M860 788.5h3M866 788.5h3M872 788.5h3M878 788.5h3M884 788.5h3M890 788.5h3M896 788.5h3M902 788.5h3M908 788.5h3M914 788.5h3M920 788.5h3M926 788.5h3M932 788.5h3M938 788.5h3M944 788.5h3M950 788.5h3M956 788.5h3M962 788.5h3M968 788.5h3M974 788.5h3M980 788.5h3M986 788.5h3M992 788.5h3M998 788.5h3M1004 788.5h3M1010 788.5h3M1016 788.5h3M1022 788.5h3M1028 788.5h3M1034 788.5h3M1040 788.5h3M1046 788.5h3M1052 788.5h3M1058 788.5h3M1064 788.5h3M1070 788.5h3M1076 788.5h3M1082 788.5h3M1088 788.5h3M1094 788.5h3M1100 788.5h3M1106 788.5h3M1112 788.5h3M1118 788.5h3M1124 788.5h3M1130 788.5h3M1136 788.5h3M1142 788.5h3M1148 788.5h3M1154 788.5h3M1160 788.5h3M1166 788.5h3M1172 788.5h3M1178 788.5h3M1184 788.5h3M1190 788.5h3M1196 788.5h3M1202 788.5h3M1208 788.5h3M1214 788.5h3M1220 788.5h3M1226 788.5h3M1232 788.5h3M1238 788.5h3M1244 788.5h3M1250 788.5h3M1256 788.5h3M1262 788.5h3M1268 788.5h3M1274 788.5h3M1280 788.5h3M1286 788.5h3M1292 788.5h3M1298 788.5h3M1304 788.5h3M1310 788.5h3M1316 788.5h3M1322 788.5h3M1328 788.5h3M1334 788.5h3M1340 788.5h3M1346 788.5h3M1352 788.5h3M1358 788.5h3M1364 788.5h3M1370 788.5h3M1376 788.5h3M1382 788.5h3M1388 788.5h3M1394 788.5h3M1400 788.5h3M1406 788.5h3M1412 788.5h3M1418 788.5h3M1424 788.5h3M1430 788.5h3M1436 788.5h3M1442 788.5h3M1448 788.5h3M1454 788.5h3M1460 788.5h3M1466 788.5h3M1472 788.5h3M1478 788.5h3M1484 788.5h3M1490 788.5h3M1496 788.5h3M1502 788.5h3M1508 788.5h3M1514 788.5h3M1520 788.5h3M1526 788.5h3M1532 788.5h3M1538 788.5h3M1544 788.5h3M1550 788.5h3M1556 788.5h3M1562 788.5h3M1568 788.5h3M1574 788.5h3M1580 788.5h3M1586 788.5h3M1592 788.5h3M1598 788.5h3M1604 788.5h3M1610 788.5h3M1616 788.5h3M1622 788.5h3M1628 788.5h3M1634 788.5h3M1640 788.5h3M1646 788.5h3M1652 788.5h3M1658 788.5h3M1664 788.5h3M1670 788.5h3M1676 788.5h3M1682 788.5h3M1688 788.5h3" stroke="#c0c0c0" stroke-width="1" fill="none"/>
<path d="M2 839.5h3M8 839.5h3M14 839.5h3M20 839.5h3M26 839.5h3M32 839.5h3M38 839.5h3M44 839.5h3M50 839.5h3M56 839.5h3M62 839.5h3M68 839.5h3M74 839.5h3M80 839.5h3M86 839.5h3M92 839.5h3M98 839.5h3M104 839.5h3M110 839.5h3M116 839.5h3M122 839.5h3M128 839.5h3M134 839.5h3M140 839.5h3M146 839.5h3M152 839.5h3M158 839.5h3M164 839.5h3M170 839.5h3M176 839.5h3M182 839.5h3M188 839.5h3M194 839.5h3M200 839.5h3M206 839.5h3M212 839.5h3M218 839.5h3M224 839.5h3M230 839.5h3M236 839.5h3M242 839.5h3M248 839.5h3M254 839.5h3M260 839.5h3M266 839.5h3M272 839.5h3M278 839.5h3M284 839.5h3M290 839.5h3M296 839.5h3M302 839.5h3M308 839.5h3M314 839.5h3M320 839.5h3M326 839.5h3M332 839.5h3M338 839.5h3M344 839.5h3M350 839.5h3M356 839.5h3M362 839.5h3M368 839.5h3M374 839.5h3M380 839.5h3M386 839.5h3M392 839.5h3M398 839.5h3M404 839.5h3M410 839.5h3M416 839.5h3M422 839.5h3M428 839.5h3M434 839.5h3M440 839.5h3M446 839.5h3M452 839.5h3M458 839.5h3M464 839.5h3M470 839.5h3M476 839.5h3M482 839.5h3M488 839.5h3M494 839.5h3M500 839.5h3M506 839.5h3M512 839.5h3M518 839.5h3M524 839.5h3M530 839.5h3M536 839.5h3M542 839.5h3M548 839.5h3M554 839.5h3M560 839.5h3M566 839.5h3M572 839.5h3M578 839.5h3M584 839.5h3M590 839.5h3M596 839.5h3M602 839.5h3M608 839.5h3M614 839.5h3M620 839.5h3M626 839.5h3M632 839.5h3M638 839.5h3M644 839.5h3M650 839.5h3M656 839.5h3M662 839.5h3M668 839.5h3M674 839.5h3M680 839.5h3M686 839.5h3M692 839.5h3M698 839.5h3M704 839.5h3M710 839.5h3M716 839.5h3M722 839.5h3M728 839.5h3M734 839.5h3M740 839.5h3M746 839.5h3M752 839.5h3M758 839.5h3M764 839.5h3M770 839.5h3M776 839.5h3M782 839.5h3M788 839.5h3M794 839.5h3M800 839.5h3M806 839.5h3M812 839.5h3M818 839.5h3M824 839.5h3M830 839.5h3M836 839.5h3M842 839.5h3M848 839.5h3M854 839.5h3M860 839.5h3M866 839.5h3M872 839.5h3M878 839.5h3M884 839.5h3M890 839.5h3M896 839.5h3M902 839.5h3M908 839.5h3M914 839.5h3M920 839.5h3M926 839.5h3M932 839.5h3M938 839.5h3M944 839.5h3M950 839.5h3M956 839.5h3M962 839.5h3M968 839.5h3M974 839.5h3M980 839.5h3M986 839.5h3M992 839.5h3M998 839.5h3M1004 839.5h3M1010 839.5h3M1016 839.5h3M1022 839.5h3M1028 839.5h3M1034 839.5h3M1040 839.5h3M1046 839.5h3M1052 839.5h3M1058 839.5h3M1064 839.5h3M1070 839.5h3M1076 839.5h3M1082 839.5h3M1088 839.5h3M1094 839.5h3M1100 839.5h3M1106 839.5h3M1112 839.5h3M1118 839.5h3M1124 839.5h3M1130 839.5h3M1136 839.5h3M1142 839.5h3M1148 839.5h3M1154 839.5h3M1160 839.5h3M1166 839.5h3M1172 839.5h3M1178 839.5h3M1184 839.5h3M1190 839.5h3M1196 839.5h3M1202 839.5h3M1208 839.5h3M1214 839.5h3M1220 839.5h3M1226 839.5h3M1232 839.5h3M1238 839.5h3M1244 839.5h3M1250 839.5h3M1256 839.5h3M1262 839.5h3M1268 839.5h3M1274 839.5h3M1280 839.5h3M1286 839.5h3M1292 839.5h3M1298 839.5h3M1304 839.5h3M1310 839.5h3M1316 839.5h3M1322 839.5h3M1328 839.5h3M1334 839.5h3M1340 839.5h3M1346 839.5h3M1352 839.5h3M1358 839.5h3M1364 839.5h3M1370 839.5h3M1376 839.5h3M1382 839.5h3M1388 839.5h3M1394 839.5h3M1400 839.5h3M1406 839.5h3M1412 839.5h3M1418 839.5h3M1424 839.5h3M1430 839.5h3M1436 839.5h3M1442 839.5h3M1448 839.5h3M1454 839.5h3M1460 839.5h3M1466 839.5h3M1472 839.5h3M1478 839.5h3M1484 839.5h3M1490 839.5h3M1496 839.5h3M1502 839.5h3M1508 839.5h3M1514 839.5h3M1520 839.5h3M1526 839.5h3M1532 839.5h3M1538 839.5h3M1544 839.5h3M1550 839.5h3M1556 839.5h3M1562 839.5h3M1568 839.5h3M1574 839.5h3M1580 839.5h3M1586 839.5h3M1592 839.5h3M1598 839.5h3M1604 839.5h3M1610 839.5h3M1616 839.5h3M1622 839.5h3M1628 839.5h3M1634 839.5h3M1640 839.5h3M1646 839.5h3M1652 839.5h3M1658 839.5h3M1664 839.5h3M1670 839.5h3M1676 839.5h3M1682 839.5h3M1688 839.5h3" stroke="#c0c0c0" stroke-width="1" fill="none"/>
<path d="M2 900.5h3M8 900.5h3M14 900.5h3M20 900.5h3M26 900.5h3M32 900.5h3M38 900.5h3M44 900.5h3M50 900.5h3M56 900.5h3M62 900.5h3M68 900.5h3M74 900.5h3M80 900.5h3M86 900.5h3M92 900.5h3M98 900.5h3M104 900.5h3M110 900.5h3M116 900.5h3M122 900.5h3M128 900.5h3M134 900.5h3M140 900.5h3M146 900.5h3M152 900.5h3M158 900.5h3M164 900.5h3M170 900.5h3M176 900.5h3M182 900.5h3M188 900.5h3M194 900.5h3M200 900.5h3M206 900.5h3M212 900.5h3M218 900.5h3M224 900.5h3M230 900.5h3M236 900.5h3M242 900.5h3M248 900.5h3M254 900.5h3M260 900.5h3M266 900.5h3M272 900.5h3M278 900.5h3M284 900.5h3M290 900.5h3M296 900.5h3M302 900.5h3M308 900.5h3M314 900.5h3M320 900.5h3M326 900.5h3M332 900.5h3M338 900.5h3M344 900.5h3M350 900.5h3M356 900.5h3M362 900.5h3M368 900.5h3M374 900.5h3M380 900.5h3M386 900.5h3M392 900.5h3M398 900.5h3M404 900.5h3M410 900.5h3M416 900.5h3M422 900.5h3M428 900.5h3M434 900.5h3M440 900.5h3M446 900.5h3M452 900.5h3M458 900.5h3M464 900.5h3M470 900.5h3M476 900.5h3M482 900.5h3M488 900.5h3M494 900.5h3M500 900.5h3M506 900.5h3M512 900.5h3M518 900.5h3M524 900.5h3M530 900.5h3M536 900.5h3M542 900.5h3M548 900.5h3M554 900.5h3M560 900.5h3M566 900.5h3M572 900.5h3M578 900.5h3M584 900.5h3M590 900.5h3M596 900.5h3M602 900.5h3M608 900.5h3M614 900.5h3M620 900.5h3M626 900.5h3M632 900.5h3M638 900.5h3M644 900.5h3M650 900.5h3M656 900.5h3M662 900.5h3M668 900.5h3M674 900.5h3M680 900.5h3M686 900.5h3M692 900.5h3M698 900.5h3M704 900.5h3M710 900.5h3M716 900.5h3M722 900.5h3M728 900.5h3M734 900.5h3M740 900.5h3M746 900.5h3M752 900.5h3M758 900.5h3M764 900.5h3M770 900.5h3M776 900.5h3M782 900.5h3M788 900.5h3M794 900.5h3M800 900.5h3M806 900.5h3M812 900.5h3M818 900.5h3M824 900.5h3M830 900.5h3M836 900.5h3M842 900.5h3M848 900.5h3M854 900.5h3M860 900.5h3M866 900.5h3M872 900.5h3M878 900.5h3M884 900.5h3M890 900.5h3M896 900.5h3M902 900.5h3M908 900.5h3M914 900.5h3M920 900.5h3M926 900.5h3M932 900.5h3M938 900.5h3M944 900.5h3M950 900.5h3M956 900.5h3M962 900.5h3M968 900.5h3M974 900.5h3M980 900.5h3M986 900.5h3M992 900.5h3M998 900.5h3M1004 900.5h3M1010 900.5h3M1016 900.5h3M1022 900.5h3M1028 900.5h3M1034 900.5h3M1040 900.5h3M1046 900.5h3M1052 900.5h3M1058 900.5h3M1064 900.5h3M1070 900.5h3M1076 900.5h3M1082 900.5h3M1088 900.5h3M1094 900.5h3M1100 900.5h3M1106 900.5h3M1112 900.5h3M1118 900.5h3M1124 900.5h3M1130 900.5h3M1136 900.5h3M1142 900.5h3M1148 900.5h3M1154 900.5h3M1160 900.5h3M1166 900.5h3M1172 900.5h3M1178 900.5h3M1184 900.5h3M1190 900.5h3M1196 900.5h3M1202 900.5h3M1208 900.5h3M1214 900.5h3M1220 900.5h3M1226 900.5h3M1232 900.5h3M1238 900.5h3M1244 900.5h3M1250 900.5h3M1256 900.5h3M1262 900.5h3M1268 900.5h3M1274 900.5h3M1280 900.5h3M1286 900.5h3M1292 900.5h3M1298 900.5h3M1304 900.5h3M1310 900.5h3M1316 900.5h3M1322 900.5h3M1328 900.5h3M1334 900.5h3M1340 900.5h3M1346 900.5h3M1352 900.5h3M1358 900.5h3M1364 900.5h3M1370 900.5h3M1376 900.5h3M1382 900.5h3M1388 900.5h3M1394 900.5h3M1400 900.5h3M1406 900.5h3M1412 900.5h3M1418 900.5h3M1424 900.5h3M1430 900.5h3M1436 900.5h3M1442 900.5h3M1448 900.5h3M1454 900.5h3M1460 900.5h3M1466 900.5h3M1472 900.5h3M1478 900.5h3M1484 900.5h3M1490 900.5h3M1496 900.5h3M1502 900.5h3M1508 900.5h3M1514 900.5h3M1520 900.5h3M1526 900.5h3M1532 900.5h3M1538 900.5h3M1544 900.5h3M1550 900.5h3M1556 900.5h3M1562 900.5h3M1568 900.5h3M1574 900.5h3M1580 900.5h3M1586 900.5h3M1592 900.5h3M1598 900.5h3M1604 900.5h3M1610 900.5h3M1616 900.5h3M1622 900.5h3M1628 900.5h3M1634 900.5h3M1640 900.5h3M1646 900.5h3M1652 900.5h3M1658 900.5h3M1664 900.5h3M1670 900.5h3M1676 900.5h3M1682 900.5h3M1688 900.5h3" stroke="#c0c0c0" stroke-width="1" fill="none"/>
</g>
<path d="M-0.5 854.4 L7.5 861.2 L15.5 855.6 L23.5 860.7 L31.5 872.9 L39.5 874.1 L47.5 855.6 L55.5 865.3 L63.5 835.4 L71.5 826.5 L79.5 825.3 L87.5 825.3 L95.5 816.4 L103.5 821.5 L111.5 820.2 L119.5 814.4 L127.5 816.4 L135.5 815.4 L143.5 815.4 L151.5 824.7 L159.5 831.1 L167.5 837.4 L175.5 846.8 L183.5 857.4 L191.5 853.1 L199.5 846.3 L207.5 850.1 L215.5 853.6 L223.5 865.3 L231.5 864.5 L239.5 855.1 L247.5 832.3 L255.5 824 L263.5 822.2 L271.5 828.3 L279.5 831.6 L287.5 828.5 L295.5 826.5 L303.5 826.5 L311.5 829.6 L319.5 829.6 L327.5 828.5 L335.5 827.3 L343.5 824 L351.5 798.7 L359.5 789 L367.5 802 L375.5 803.7 L383.5 823.2 L391.5 836.7 L399.5 835.4 L407.5 849.3 L415.5 871.4 L423.5 873.4 L431.5 857.4 L439.5 871.4 L447.5 860.7 L455.5 872.1 L463.5 877.7 L471.5 883.5 L479.5 888.1 L487.5 864.5 L495.5 867.6 L503.5 865.3 L511.5 835.4 L519.5 846.3 L527.5 848.6 L535.5 839.2 L543.5 833.4 L551.5 816.9 L559.5 818.9 L567.5 825.3 L575.5 822.2 L583.5 821.5 L591.5 823.2 L599.5 836.7 L607.5 845 L615.5 848.6 L623.5 843.5 L631.5 847.5 L639.5 848.8 L647.5 842.5 L655.5 839.9 L663.5 835.9 L671.5 833.4 L679.5 837.4 L687.5 835.4 L695.5 839.9 L703.5 841.7 L711.5 848.1 L719.5 852.4 L727.5 846.8 L735.5 843.5 L743.5 846.8 L751.5 845.5 L759.5 845.5 L767.5 845.5 L775.5 843.5 L783.5 846.8 L791.5 849.8 L799.5 847.5 L807.5 851.1 L815.5 858.2 L823.5 860.7 L831.5 847.5 L839.5 853.1 L847.5 855.6 L855.5 855.6 L863.5 859.4 L871.5 862.5 L879.5 859.4 L887.5 851.1 L895.5 846.3 L903.5 833.4 L911.5 841 L919.5 845 L927.5 837.2 L935.5 838.4 L943.5 839.9 L951.5 835.9 L959.5 828.5 L967.5 833.4 L975.5 832.1 L983.5 834.1 L991.5 830.3 L999.5 832.1 L1007.5 837.2 L1015.5 830.3 L1023.5 834.1 L1031.5 830.3 L1039.5 833.4 L1047.5 837.9 L1055.5 812.6 L1063.5 809.3 L1071.5 807.5 L1079.5 801.2 L1087.5 801.2 L1095.5 833.4 L1103.5 844.3 L1111.5 856.4 L1119.5 859.4 L1127.5 847.3 L1135.5 848.6 L1143.5 845 L1151.5 847.3 L1159.5 855.6 L1167.5 852.4 L1175.5 854.4 L1183.5 855.6 L1191.5 853.1 L1199.5 862.5 L1207.5 847.5 L1215.5 844.3 L1223.5 844.3 L1231.5 843 L1239.5 834.1 L1247.5 826.5 L1255.5 840.5 L1263.5 838.4 L1271.5 838.4 L1279.5 836.1 L1287.5 841.2 L1295.5 836.7 L1303.5 843 L1311.5 844.3 L1319.5 851.1 L1327.5 852.4 L1335.5 841.2 L1343.5 842.5 L1351.5 851.1 L1359.5 840.5 L1367.5 848.1 L1375.5 844.3 L1383.5 842.5 L1391.5 851.3 L1399.5 841.2 L1407.5 849.3 L1415.5 864.5 L1423.5 864.5 L1431.5 875.4 L1439.5 877.7" fill="none" stroke="#1e90ff" stroke-width="1" stroke-linejoin="round" shape-rendering="crispEdges"/>
<g shape-rendering="crispEdges" fill="#000">
<rect x="0" y="25" width="1691" height="1"/>
<rect x="0" y="578" width="1691" height="1"/>
<rect x="0" y="580" width="1691" height="1"/>
<rect x="0" y="750" width="1691" height="1"/>
<rect x="0" y="752" width="1691" height="1"/>
<rect x="0" y="926" width="1691" height="1"/>
<rect x="1690" y="25" width="1" height="902"/>
<rect x="1691" y="47" width="2" height="1"/>
<rect x="1691" y="80" width="2" height="1"/>
<rect x="1691" y="113" width="2" height="1"/>
<rect x="1691" y="146" width="2" height="1"/>
<rect x="1691" y="179" width="2" height="1"/>
<rect x="1691" y="212" width="2" height="1"/>
<rect x="1691" y="245" width="2" height="1"/>
<rect x="1691" y="278" width="2" height="1"/>
<rect x="1691" y="311" width="2" height="1"/>
<rect x="1691" y="344" width="2" height="1"/>
<rect x="1691" y="377" width="2" height="1"/>
<rect x="1691" y="410" width="2" height="1"/>
<rect x="1691" y="443" width="2" height="1"/>
<rect x="1691" y="476" width="2" height="1"/>
<rect x="1691" y="509" width="2" height="1"/>
<rect x="1691" y="542" width="2" height="1"/>
<rect x="1691" y="575" width="2" height="1"/>
<rect x="1691" y="582" width="1" height="1"/>
<rect x="1691" y="638" width="1" height="1"/>
<rect x="1691" y="749" width="1" height="1"/>
<rect x="1691" y="754" width="1" height="1"/>
<rect x="1691" y="925" width="1" height="1"/>
<rect x="63" y="926" width="1" height="4"/>
<rect x="127" y="926" width="1" height="4"/>
<rect x="191" y="926" width="1" height="4"/>
<rect x="255" y="926" width="1" height="4"/>
<rect x="319" y="926" width="1" height="4"/>
<rect x="383" y="926" width="1" height="4"/>
<rect x="447" y="926" width="1" height="4"/>
<rect x="511" y="926" width="1" height="4"/>
<rect x="575" y="926" width="1" height="4"/>
<rect x="639" y="926" width="1" height="4"/>
<rect x="703" y="926" width="1" height="4"/>
<rect x="767" y="926" width="1" height="4"/>
<rect x="831" y="926" width="1" height="4"/>
<rect x="895" y="926" width="1" height="4"/>
<rect x="959" y="926" width="1" height="4"/>
<rect x="1023" y="926" width="1" height="4"/>
<rect x="1087" y="926" width="1" height="4"/>
<rect x="1151" y="926" width="1" height="4"/>
<rect x="1215" y="926" width="1" height="4"/>
<rect x="1279" y="926" width="1" height="4"/>
<rect x="1343" y="926" width="1" height="4"/>
<rect x="1407" y="926" width="1" height="4"/>
</g>
<text transform="translate(1696.5 50.9) skewX(0.1)" font-size="9.8" textLength="31.86" lengthAdjust="spacingAndGlyphs" stroke="#000" stroke-width="0.2">112.330</text>
<text transform="translate(1696.5 83.9) skewX(0.1)" font-size="9.8" textLength="31.19" lengthAdjust="spacingAndGlyphs" stroke="#000" stroke-width="0.2">111.610</text>
<text transform="translate(1696.5 116.9) skewX(0.1)" font-size="9.8" textLength="31.86" lengthAdjust="spacingAndGlyphs" stroke="#000" stroke-width="0.2">110.910</text>
<text transform="translate(1696.5 149.9) skewX(0.1)" font-size="9.8" textLength="31.86" lengthAdjust="spacingAndGlyphs" stroke="#000" stroke-width="0.2">110.190</text>
<text transform="translate(1696.5 182.9) skewX(0.1)" font-size="9.8" textLength="32.53" lengthAdjust="spacingAndGlyphs" stroke="#000" stroke-width="0.2">109.490</text>
<text transform="translate(1696.5 215.9) skewX(0.1)" font-size="9.8" textLength="32.53" lengthAdjust="spacingAndGlyphs" stroke="#000" stroke-width="0.2">108.770</text>
<text transform="translate(1696.5 248.9) skewX(0.1)" font-size="9.8" textLength="32.53" lengthAdjust="spacingAndGlyphs" stroke="#000" stroke-width="0.2">108.050</text>
<text transform="translate(1696.5 281.9) skewX(0.1)" font-size="9.8" textLength="32.53" lengthAdjust="spacingAndGlyphs" stroke="#000" stroke-width="0.2">107.350</text>
<text transform="translate(1696.5 314.9) skewX(0.1)" font-size="9.8" textLength="32.53" lengthAdjust="spacingAndGlyphs" stroke="#000" stroke-width="0.2">106.630</text>
<text transform="translate(1696.5 347.9) skewX(0.1)" font-size="9.8" textLength="32.53" lengthAdjust="spacingAndGlyphs" stroke="#000" stroke-width="0.2">105.930</text>
<text transform="translate(1696.5 380.9) skewX(0.1)" font-size="9.8" textLength="32.53" lengthAdjust="spacingAndGlyphs" stroke="#000" stroke-width="0.2">105.210</text>
<text transform="translate(1696.5 413.9) skewX(0.1)" font-size="9.8" textLength="32.53" lengthAdjust="spacingAndGlyphs" stroke="#000" stroke-width="0.2">104.510</text>
<text transform="translate(1696.5 446.9) skewX(0.1)" font-size="9.8" textLength="32.53" lengthAdjust="spacingAndGlyphs" stroke="#000" stroke-width="0.2">103.790</text>
<text transform="translate(1696.5 479.9) skewX(0.1)" font-size="9.8" textLength="32.53" lengthAdjust="spacingAndGlyphs" stroke="#000" stroke-width="0.2">103.070</text>
<text transform="translate(1696.5 512.9) skewX(0.1)" font-size="9.8" textLength="32.53" lengthAdjust="spacingAndGlyphs" stroke="#000" stroke-width="0.2">102.370</text>
<text transform="translate(1696.5 545.9) skewX(0.1)" font-size="9.8" textLength="32.53" lengthAdjust="spacingAndGlyphs" stroke="#000" stroke-width="0.2">101.650</text>
<text transform="translate(1696.5 578.9) skewX(0.1)" font-size="9.8" textLength="32.53" lengthAdjust="spacingAndGlyphs" stroke="#000" stroke-width="0.2">100.950</text>
<text transform="translate(1693.7 590.9) skewX(0.1)" font-size="9.8" textLength="27.52" lengthAdjust="spacingAndGlyphs" stroke="#000" stroke-width="0.2">0.8034</text>
<text transform="translate(1693.7 641.9) skewX(0.1)" font-size="9.8" textLength="17.51" lengthAdjust="spacingAndGlyphs" stroke="#000" stroke-width="0.2">0.00</text>
<text transform="translate(1693.7 746.9) skewX(0.1)" font-size="9.8" textLength="30.52" lengthAdjust="spacingAndGlyphs" stroke="#000" stroke-width="0.2">-1.5784</text>
<text transform="translate(1693.5 762.9) skewX(0.1)" font-size="9.8" textLength="15.01" lengthAdjust="spacingAndGlyphs" stroke="#000" stroke-width="0.2">100</text>
<text transform="translate(1692.9 791.9) skewX(0.1)" font-size="9.8" textLength="10.01" lengthAdjust="spacingAndGlyphs" stroke="#000" stroke-width="0.2">80</text>
<text transform="translate(1693.5 842.9) skewX(0.1)" font-size="9.8" textLength="10.01" lengthAdjust="spacingAndGlyphs" stroke="#000" stroke-width="0.2">50</text>
<text transform="translate(1693.5 903.9) skewX(0.1)" font-size="9.8" textLength="10.01" lengthAdjust="spacingAndGlyphs" stroke="#000" stroke-width="0.2">15</text>
<text transform="translate(1693.5 922.9) skewX(0.1)" font-size="9.8" textLength="5" lengthAdjust="spacingAndGlyphs" stroke="#000" stroke-width="0.2">0</text>
<text transform="translate(-1 938.5) skewX(0.1)" font-size="9.8" textLength="51.03" lengthAdjust="spacingAndGlyphs" stroke="#000" stroke-width="0.2">30 Dec 2019</text>
<text transform="translate(62 938.5) skewX(0.1)" font-size="9.8" textLength="44.53" lengthAdjust="spacingAndGlyphs" stroke="#000" stroke-width="0.2">8 Jan 2020</text>
<text transform="translate(126 938.5) skewX(0.1)" font-size="9.8" textLength="49.54" lengthAdjust="spacingAndGlyphs" stroke="#000" stroke-width="0.2">17 Jan 2020</text>
<text transform="translate(190 938.5) skewX(0.1)" font-size="9.8" textLength="49.54" lengthAdjust="spacingAndGlyphs" stroke="#000" stroke-width="0.2">27 Jan 2020</text>
<text transform="translate(254 938.5) skewX(0.1)" font-size="9.8" textLength="45.53" lengthAdjust="spacingAndGlyphs" stroke="#000" stroke-width="0.2">5 Feb 2020</text>
<text transform="translate(318 938.5) skewX(0.1)" font-size="9.8" textLength="50.53" lengthAdjust="spacingAndGlyphs" stroke="#000" stroke-width="0.2">14 Feb 2020</text>
<text transform="translate(382 938.5) skewX(0.1)" font-size="9.8" textLength="50.53" lengthAdjust="spacingAndGlyphs" stroke="#000" stroke-width="0.2">24 Feb 2020</text>
<text transform="translate(446 938.5) skewX(0.1)" font-size="9.8" textLength="45.52" lengthAdjust="spacingAndGlyphs" stroke="#000" stroke-width="0.2">4 Mar 2020</text>
<text transform="translate(510 938.5) skewX(0.1)" font-size="9.8" textLength="50.53" lengthAdjust="spacingAndGlyphs" stroke="#000" stroke-width="0.2">13 Mar 2020</text>
<text transform="translate(574 938.5) skewX(0.1)" font-size="9.8" textLength="50.53" lengthAdjust="spacingAndGlyphs" stroke="#000" stroke-width="0.2">23 Mar 2020</text>
<text transform="translate(638 938.5) skewX(0.1)" font-size="9.8" textLength="43.53" lengthAdjust="spacingAndGlyphs" stroke="#000" stroke-width="0.2">1 Apr 2020</text>
<text transform="translate(702 938.5) skewX(0.1)" font-size="9.8" textLength="48.54" lengthAdjust="spacingAndGlyphs" stroke="#000" stroke-width="0.2">12 Apr 2020</text>
<text transform="translate(766 938.5) skewX(0.1)" font-size="9.8" textLength="48.54" lengthAdjust="spacingAndGlyphs" stroke="#000" stroke-width="0.2">21 Apr 2020</text>
<text transform="translate(830 938.5) skewX(0.1)" font-size="9.8" textLength="48.54" lengthAdjust="spacingAndGlyphs" stroke="#000" stroke-width="0.2">30 Apr 2020</text>
<text transform="translate(894 938.5) skewX(0.1)" font-size="9.8" textLength="52.03" lengthAdjust="spacingAndGlyphs" stroke="#000" stroke-width="0.2">10 May 2020</text>
<text transform="translate(958 938.5) skewX(0.1)" font-size="9.8" textLength="52.03" lengthAdjust="spacingAndGlyphs" stroke="#000" stroke-width="0.2">19 May 2020</text>
<text transform="translate(1022 938.5) skewX(0.1)" font-size="9.8" textLength="52.03" lengthAdjust="spacingAndGlyphs" stroke="#000" stroke-width="0.2">28 May 2020</text>
<text transform="translate(1086 938.5) skewX(0.1)" font-size="9.8" textLength="44.53" lengthAdjust="spacingAndGlyphs" stroke="#000" stroke-width="0.2">7 Jun 2020</text>
<text transform="translate(1150 938.5) skewX(0.1)" font-size="9.8" textLength="49.54" lengthAdjust="spacingAndGlyphs" stroke="#000" stroke-width="0.2">16 Jun 2020</text>
<text transform="translate(1214 938.5) skewX(0.1)" font-size="9.8" textLength="49.54" lengthAdjust="spacingAndGlyphs" stroke="#000" stroke-width="0.2">25 Jun 2020</text>
<text transform="translate(1278 938.5) skewX(0.1)" font-size="9.8" textLength="41.53" lengthAdjust="spacingAndGlyphs" stroke="#000" stroke-width="0.2">5 Jul 2020</text>
<text transform="translate(1342 938.5) skewX(0.1)" font-size="9.8" textLength="46.53" lengthAdjust="spacingAndGlyphs" stroke="#000" stroke-width="0.2">14 Jul 2020</text>
<text transform="translate(1406 938.5) skewX(0.1)" font-size="9.8" textLength="46.53" lengthAdjust="spacingAndGlyphs" stroke="#000" stroke-width="0.2">23 Jul 2020</text>
<rect x="1692" y="311" width="41" height="11" fill="#ff0000" shape-rendering="crispEdges"/>
<text transform="translate(1696.5 319.9) skewX(0.1)" font-size="9.8" textLength="32.53" lengthAdjust="spacingAndGlyphs" fill="#fff" stroke="#fff" stroke-width="0.2">106.507</text>
<rect x="1685.5" y="315.5" width="4" height="4" fill="#fff" stroke="#ff0000" stroke-width="1" shape-rendering="crispEdges"/>
<rect x="-0.5" y="315.5" width="4" height="4" fill="#fff" stroke="#ff0000" stroke-width="1" shape-rendering="crispEdges"/>
<rect x="1692" y="332" width="41" height="11" fill="#ff0000" shape-rendering="crispEdges"/>
<text transform="translate(1696.5 340.9) skewX(0.1)" font-size="9.8" textLength="32.53" lengthAdjust="spacingAndGlyphs" fill="#fff" stroke="#fff" stroke-width="0.2">106.055</text>
<rect x="1685.5" y="336.5" width="4" height="4" fill="#fff" stroke="#ff0000" stroke-width="1" shape-rendering="crispEdges"/>
<rect x="-0.5" y="336.5" width="4" height="4" fill="#fff" stroke="#ff0000" stroke-width="1" shape-rendering="crispEdges"/>
<rect x="1692" y="364" width="41" height="11" fill="#32cd32" shape-rendering="crispEdges"/>
<text transform="translate(1696.5 372.9) skewX(0.1)" font-size="9.8" textLength="32.53" lengthAdjust="spacingAndGlyphs" fill="#fff" stroke="#fff" stroke-width="0.2">105.367</text>
<rect x="1685.5" y="368.5" width="4" height="4" fill="#fff" stroke="#32cd32" stroke-width="1" shape-rendering="crispEdges"/>
<rect x="-0.5" y="368.5" width="4" height="4" fill="#fff" stroke="#32cd32" stroke-width="1" shape-rendering="crispEdges"/>
<rect x="1692" y="380" width="41" height="11" fill="#000000" shape-rendering="crispEdges"/>
<text transform="translate(1696.5 388.9) skewX(0.1)" font-size="9.8" textLength="32.53" lengthAdjust="spacingAndGlyphs" fill="#fff" stroke="#fff" stroke-width="0.2">105.034</text>
<rect x="1692" y="405" width="41" height="11" fill="#0000ff" shape-rendering="crispEdges"/>
<text transform="translate(1696.5 413.9) skewX(0.1)" font-size="9.8" textLength="32.53" lengthAdjust="spacingAndGlyphs" fill="#fff" stroke="#fff" stroke-width="0.2">104.484</text>
<rect x="1685.5" y="409.5" width="4" height="4" fill="#fff" stroke="#0000ff" stroke-width="1" shape-rendering="crispEdges"/>
<rect x="-0.5" y="409.5" width="4" height="4" fill="#fff" stroke="#0000ff" stroke-width="1" shape-rendering="crispEdges"/>
<rect x="1692" y="424" width="41" height="11" fill="#0000ff" shape-rendering="crispEdges"/>
<text transform="translate(1696.5 432.9) skewX(0.1)" font-size="9.8" textLength="32.53" lengthAdjust="spacingAndGlyphs" fill="#fff" stroke="#fff" stroke-width="0.2">104.075</text>
<rect x="1381" y="365" width="103" height="8" fill="#00ff00" shape-rendering="crispEdges"/>
<path d="M1382.2 273.2 L1448.2 405.4" stroke="#ff0000" stroke-width="3" fill="none" shape-rendering="crispEdges"/>
<path d="M1451.4 412 L1443 403.3 L1450.8 398.7 L1453 405 Z" fill="#ff0000" shape-rendering="crispEdges"/>
<rect x="1264" y="370" width="8" height="1" fill="#ff0000" shape-rendering="crispEdges"/>
<rect x="1271.5" y="368.5" width="3" height="3" fill="#fff" stroke="#ff0000" shape-rendering="crispEdges"/>
<rect x="1274.5" y="358.5" width="73" height="24" fill="#fff" stroke="#ff0000" shape-rendering="crispEdges"/>
<text x="1275.7" y="378.4" font-size="22" fill="#ff0000" stroke="#ff0000" stroke-width="0.4" textLength="70.8" lengthAdjust="spacingAndGlyphs">105.367</text>
<text x="1537" y="376.6" font-size="22.6" fill="#00ff00" font-family='"Liberation Sans", "Noto Sans CJK SC", sans-serif'>多空转折点</text>
<path d="M5 32h1v1h1v1h1v1h1v1h-7v-1h1v-1h1v-1h1z" fill="#000" shape-rendering="crispEdges"/>
<text transform="translate(14.6 37) skewX(0.1)" font-size="10" textLength="63.2" lengthAdjust="spacingAndGlyphs">USDJPY-,Daily</text>
<text transform="translate(84.4 37) skewX(0.1)" font-size="10" textLength="140.4" lengthAdjust="spacingAndGlyphs">105.270 105.679 104.948 105.034</text>
<text transform="translate(3 593) skewX(0.1)" font-size="10" textLength="133.6" lengthAdjust="spacingAndGlyphs">MACD(12,26,9) -0.4432 -0.1922</text>
<text transform="translate(3 765) skewX(0.1)" font-size="10" textLength="67.8" lengthAdjust="spacingAndGlyphs">RSI(14) 27.9642</text>
<path d="M1447 26 L1456.2 26 L1451.6 31.2 Z" fill="#c0c0c0"/>
</svg>
<svg width="230" height="90" viewBox="0 40 230 90" style="position:absolute;left:0;top:40px" font-family='"Liberation Sans", sans-serif'>
<defs><linearGradient id="r1" x1="0" y1="0" x2="0" y2="1"><stop offset="0" stop-color="#fb5252"/><stop offset="1" stop-color="#d92a2a"/></linearGradient><linearGradient id="r2" x1="0" y1="0" x2="0" y2="1"><stop offset="0" stop-color="#d83030"/><stop offset="1" stop-color="#b00000"/></linearGradient><linearGradient id="sp" x1="0" y1="0" x2="0" y2="1"><stop offset="0" stop-color="#f4f4f4"/><stop offset="1" stop-color="#cfcfcf"/></linearGradient></defs>
<g shape-rendering="crispEdges">
<rect x="2" y="45" width="52" height="25" fill="url(#r1)"/>
<rect x="170" y="45" width="51" height="25" fill="url(#r1)"/>
<rect x="2" y="69" width="109" height="40" fill="url(#r2)"/>
<rect x="113" y="69" width="108" height="40" fill="url(#r2)"/>
<rect x="6" y="69" width="44" height="1" fill="#f47070"/>
<rect x="173" y="69" width="44" height="1" fill="#f47070"/>
<rect x="54" y="45" width="116" height="24" fill="#fff"/>
<rect x="56.5" y="45.5" width="110" height="21" fill="#fff" stroke="#a8a8a8"/>
<rect x="57.5" y="46.5" width="19" height="19" fill="url(#sp)" stroke="#c0c0c0"/>
<rect x="146.5" y="46.5" width="19" height="19" fill="url(#sp)" stroke="#c0c0c0"/>
</g>
<path d="M64.6 54.4H69.4L67 57Z" fill="#5a6ab8"/>
<path d="M153.2 56.8H158L155.6 54.2Z" fill="#5a6ab8"/>
<text x="141.4" y="60.4" font-size="11.5" text-anchor="end" fill="#000">1.00</text>
<text x="27.2" y="60.4" font-size="11" text-anchor="middle" fill="#fff">SELL</text>
<text x="194" y="60.4" font-size="11" text-anchor="middle" fill="#fff">BUY</text>
<text x="25" y="99.8" font-size="12.2" font-weight="bold" fill="#fff">105</text>
<text x="48.4" y="100" font-size="33" fill="#fff" textLength="36" lengthAdjust="spacingAndGlyphs">03</text>
<text x="88.6" y="84" font-size="11.5" font-weight="bold" fill="#fff">4</text>
<text x="135.2" y="99.8" font-size="12.2" font-weight="bold" fill="#fff">105</text>
<text x="159" y="100" font-size="33" fill="#fff" textLength="36" lengthAdjust="spacingAndGlyphs">05</text>
<text x="200.4" y="84" font-size="11.5" font-weight="bold" fill="#fff">3</text>
</svg>
<svg width="1737" height="23" viewBox="0 0 1737 23" style="position:absolute;left:0;top:0" font-family='"Liberation Sans", sans-serif' font-size="9">
<defs><linearGradient id="gp" x1="0" y1="0" x2="0" y2="1"><stop offset="0" stop-color="#5cf070"/><stop offset="1" stop-color="#08b018"/></linearGradient><linearGradient id="gg" x1="0" y1="0" x2="1" y2="1"><stop offset="0" stop-color="#f8d850"/><stop offset="1" stop-color="#b87810"/></linearGradient><linearGradient id="gb" x1="0" y1="0" x2="0" y2="1"><stop offset="0" stop-color="#58a8ff"/><stop offset="1" stop-color="#1a78e8"/></linearGradient><linearGradient id="gc" x1="0" y1="0" x2="0" y2="1"><stop offset="0" stop-color="#ffffff"/><stop offset="1" stop-color="#c8d4ea"/></linearGradient></defs>
<rect x="-3" y="2.6" width="16.4" height="12.8" rx="1.5" fill="#fff" stroke="#3a78c0" stroke-width="1.4"/>
<rect x="-3" y="3" width="4.6" height="12" fill="#3a6fb0"/>
<rect x="0" y="8.5" width="1" height="5.5" fill="#404040"/>
<rect x="3" y="3.9" width="1.3" height="1.3" fill="#ff2020"/>
<rect x="5.2" y="4.1" width="7.2" height="0.9" fill="#c4d8fa"/>
<rect x="3" y="5.9" width="1.3" height="1.3" fill="#304020"/>
<rect x="5.2" y="6.1" width="7.2" height="0.9" fill="#c4d8fa"/>
<rect x="3" y="8.0" width="1.3" height="1.3" fill="#303030"/>
<rect x="5.2" y="8.2" width="7.2" height="0.9" fill="#c4d8fa"/>
<rect x="3" y="10.0" width="1.3" height="1.3" fill="#ff2020"/>
<rect x="5.2" y="10.2" width="7.2" height="0.9" fill="#c4d8fa"/>
<rect x="26.6" y="1.6" width="11.8" height="13" rx="0.8" fill="#fff" stroke="#b0a68c" stroke-width="1"/>
<path d="M29.5 3.2V9M29.5 7.2H28.2M36 3.2V8.4M36 4.6H37.2" stroke="#707070" stroke-width="0.8" fill="none"/>
<path d="M38.6 13.4L43 17.4" stroke="#c09818" stroke-width="3"/>
<circle cx="34.6" cy="10.1" r="4.6" fill="#d2e8f6" fill-opacity="0.92" stroke="#5a90d8" stroke-width="1" stroke-dasharray="1.6 0.7"/>
<rect x="32.6" y="7.4" width="3.2" height="5" fill="#9ab0c4" opacity="0.8"/>
<rect x="51" y="0" width="1" height="19" fill="#9a9a9a" shape-rendering="crispEdges"/>
<path d="M62 2H69.6L72.6 5V14.6H62Z" fill="#fff" stroke="#707070" stroke-width="1"/>
<path d="M69.6 2V5H72.6" fill="#e8e8e8" stroke="#707070" stroke-width="0.8"/>
<path d="M63.6 4.2H66.4M63.6 7.4H71M63.6 9.6H68.4M63.6 11.8H67" stroke="#8a8a8a" stroke-width="0.9"/>
<path d="M69.4 7.3H73.0V11.299999999999999H77.0V14.9H73.0V18.9H69.4V14.9H65.4V11.299999999999999H69.4Z" fill="url(#gp)" stroke="#0a8a0a" stroke-width="1"/>
<text x="79.8" y="12.6" font-size="12" fill="#000" font-family='"Liberation Sans", "Noto Sans CJK SC", sans-serif'>新订单</text>
<path d="M128 10.7C130.4 8.6 132.4 4.6 134.3 2.3L143.9 9.7L136.7 16.3Z" fill="url(#gg)" stroke="#a8700c" stroke-width="0.7"/>
<path d="M131.2 9.6L135.4 4.6L141 9L136.6 13.4Z" fill="#fbe060" opacity="0.55"/>
<path d="M128.2 11.6L136.7 17.4L143.8 10.7" fill="none" stroke="#8a5a08" stroke-width="1.1"/>
<path d="M158.4 2.4L162.2 1.2H168.8L169.4 2.6V10H159.2Z" fill="url(#gb)"/>
<path d="M161.6 3.2H168.6V9.6H161.6Z" fill="#7cc0ff"/>
<rect x="162.8" y="5.2" width="4.6" height="1.2" fill="#e8f4ff"/>
<path d="M158.6 16.4C155.6 16.4 155.4 12.8 158.2 12.6C158.4 10.4 161.8 9.8 162.8 11.6C164 9 168.4 9.6 168.6 12.2C172 12 172.6 16.4 169.6 16.4Z" fill="url(#gc)" stroke="#6884b8" stroke-width="0.9"/>
<path d="M192.2 0.8A7.8 7.8 0 0 1 192.2 16.4Z" fill="#78b878" fill-opacity="0.5"/>
<circle cx="191.9" cy="8.6" r="7.5" fill="none" stroke="#8fb0e4" stroke-width="1.1"/>
<circle cx="191.9" cy="8.6" r="5.3" fill="none" stroke="#4a7ad4" stroke-width="1.2"/>
<circle cx="191.9" cy="8.6" r="3.2" fill="none" stroke="#86a8e6" stroke-width="1"/>
<path d="M192.2 1.1A7.5 7.5 0 0 1 192.2 16.1M192.2 3.3A5.3 5.3 0 0 1 192.2 13.9" fill="none" stroke="#5aa060" stroke-width="1.1" opacity="0.75"/>
<circle cx="191.6" cy="8.4" r="1.8" fill="#2858c8"/>
<rect x="192" y="9" width="1.4" height="7.8" fill="#18a018"/>
<path d="M212.2 8.2L226.4 8.2L219.6 16.6Z" fill="#f8d848" stroke="#c89818" stroke-width="0.7"/>
<ellipse cx="219.2" cy="5.8" rx="7.8" ry="2.9" fill="#4a98d8"/>
<ellipse cx="219.2" cy="4" rx="4.2" ry="2.9" fill="#62acdf"/>
<circle cx="223.6" cy="12.6" r="3.9" fill="#d82810"/>
<rect x="222" y="11" width="3.2" height="3.2" fill="#fff"/>
<text x="232.6" y="12.6" font-size="11.7" fill="#000" font-family='"Liberation Sans", "Noto Sans CJK SC", sans-serif'>自动交易</text>
<rect x="287" y="0" width="1" height="19" fill="#9a9a9a" shape-rendering="crispEdges"/>
<path d="M291 1.5h3M291 3.5h3M291 5.5h3M291 7.5h3M291 9.5h3M291 11.5h3M291 13.5h3M291 15.5h3M291 17.5h3" stroke="#a8a8a8" stroke-width="1" shape-rendering="crispEdges"/>
<path d="M305.4 16.8V3.6M303 14.5H316" stroke="#505050" stroke-width="1.3" fill="none"/><path d="M303.5 5.6L305.4 2.8L307.29999999999995 5.6Z M314.6 12.6L317.2 14.5L314.6 16.4Z" fill="#505050"/>
<path d="M311.6 4.1V12.7M311.6 5.2H314M309.2 11.4H311.6" stroke="#109010" stroke-width="1.5" fill="none"/>
<rect x="325" y="0" width="1" height="19" fill="#9a9a9a" shape-rendering="crispEdges"/>
<rect x="326" y="0" width="25" height="19" fill="#fafafa" shape-rendering="crispEdges"/>
<path d="M333.4 16.8V3.6M331 14.5H344" stroke="#505050" stroke-width="1.3" fill="none"/><path d="M331.5 5.6L333.4 2.8L335.29999999999995 5.6Z M342.6 12.6L345.2 14.5L342.6 16.4Z" fill="#505050"/>
<rect x="339" y="1" width="1.2" height="11.8" fill="#109010"/>
<rect x="337.4" y="3.2" width="4.4" height="7.6" fill="#38e058" stroke="#109010" stroke-width="0.9"/>
<path d="M361.4 16.8V3.6M359 14.5H372" stroke="#505050" stroke-width="1.3" fill="none"/><path d="M359.5 5.6L361.4 2.8L363.29999999999995 5.6Z M370.6 12.6L373.2 14.5L370.6 16.4Z" fill="#505050"/>
<path d="M360.3 11.7C363 10.6 364.4 6.6 366.4 6.5C368.4 6.6 369.6 9.6 371.8 10.1" stroke="#209820" stroke-width="1.3" fill="none"/>
<rect x="382" y="0" width="1" height="19" fill="#9a9a9a" shape-rendering="crispEdges"/>
<path d="M400.5 11.100000000000001L405.9 16.1" stroke="#8a6a10" stroke-width="4" stroke-linecap="butt"/><path d="M400.5 11.100000000000001L405.7 15.9" stroke="#e8cc30" stroke-width="2.4"/><circle cx="396.9" cy="6.9" r="5.5" fill="#d4edfa" stroke="#3a7fd0" stroke-width="1.2"/><path d="M393.59999999999997 6.9H400.2" stroke="#4a8fbe" stroke-width="2"/><path d="M396.9 3.6000000000000005V10.2" stroke="#4a8fbe" stroke-width="2"/>
<path d="M428.70000000000005 11.100000000000001L434.1 16.1" stroke="#8a6a10" stroke-width="4" stroke-linecap="butt"/><path d="M428.70000000000005 11.100000000000001L433.90000000000003 15.9" stroke="#e8cc30" stroke-width="2.4"/><circle cx="425.1" cy="6.9" r="5.5" fill="#d4edfa" stroke="#3a7fd0" stroke-width="1.2"/><path d="M421.8 6.9H428.40000000000003" stroke="#4a8fbe" stroke-width="2"/>
<rect x="447" y="1.2" width="8" height="7.6" rx="0.6" fill="#2a9a10"/>
<path d="M448.2 8.2V4.4H453.8V8.2H452.8V7.2H449.2V8.2Z" fill="#fff"/>
<rect x="449.2" y="5.4" width="3.6" height="0.9" fill="#2a9a10" opacity="0.45"/>
<rect x="448.2" y="2.4" width="1" height="0.9" fill="#fff" opacity="0.8"/>
<rect x="455.2" y="1.2" width="8" height="7.6" rx="0.6" fill="#1844c8"/>
<path d="M456.4 8.2V4.4H462.0V8.2H461.0V7.2H457.4V8.2Z" fill="#fff"/>
<rect x="457.4" y="5.4" width="3.6" height="0.9" fill="#1844c8" opacity="0.45"/>
<rect x="456.4" y="2.4" width="1" height="0.9" fill="#fff" opacity="0.8"/>
<rect x="447" y="9.2" width="8" height="7.6" rx="0.6" fill="#1844c8"/>
<path d="M448.2 16.2V12.399999999999999H453.8V16.2H452.8V15.2H449.2V16.2Z" fill="#fff"/>
<rect x="449.2" y="13.399999999999999" width="3.6" height="0.9" fill="#1844c8" opacity="0.45"/>
<rect x="448.2" y="10.399999999999999" width="1" height="0.9" fill="#fff" opacity="0.8"/>
<rect x="455.2" y="9.2" width="8" height="7.6" rx="0.6" fill="#2a9a10"/>
<path d="M456.4 16.2V12.399999999999999H462.0V16.2H461.0V15.2H457.4V16.2Z" fill="#fff"/>
<rect x="457.4" y="13.399999999999999" width="3.6" height="0.9" fill="#2a9a10" opacity="0.45"/>
<rect x="456.4" y="10.399999999999999" width="1" height="0.9" fill="#fff" opacity="0.8"/>
<rect x="472" y="0" width="1" height="19" fill="#9a9a9a" shape-rendering="crispEdges"/>
<rect x="477" y="0" width="25" height="19" fill="#fafafa" shape-rendering="crispEdges"/>
<path d="M485.0 16.8V3.6M482.6 14.5H495.6" stroke="#505050" stroke-width="1.3" fill="none"/><path d="M483.1 5.6L485.0 2.8L486.9 5.6Z M494.20000000000005 12.6L496.8 14.5L494.20000000000005 16.4Z" fill="#505050"/>
<path d="M490.6 5.4L494.4 8.6L490.6 11.8Z" fill="#7be070" stroke="#189018" stroke-width="0.9"/>
<rect x="505" y="0" width="1" height="19" fill="#9a9a9a" shape-rendering="crispEdges"/>
<rect x="506" y="0" width="24" height="19" fill="#fafafa" shape-rendering="crispEdges"/>
<path d="M513.2 16.8V3.6M510.8 14.5H523.8" stroke="#505050" stroke-width="1.3" fill="none"/><path d="M511.30000000000007 5.6L513.2 2.8L515.1 5.6Z M522.4 12.6L525.0 14.5L522.4 16.4Z" fill="#505050"/>
<rect x="518.6" y="3.4" width="1.2" height="9.6" fill="#2060b0"/>
<path d="M524.8 8.2H520.6M522.6 6L520.2 8.2L522.6 10.4" stroke="#e04810" stroke-width="1.2" fill="none"/>
<rect x="534" y="0" width="1" height="19" fill="#9a9a9a" shape-rendering="crispEdges"/>
<path d="M544.8 1.8H552.6L555.6 4.8V14.4H544.8Z" fill="#fff" stroke="#8a8a8a" stroke-width="1"/>
<path d="M552.6 1.8V4.8H555.6" fill="#e8e8e8" stroke="#8a8a8a" stroke-width="0.8"/>
<path d="M550.4 4.4C548.4 3.8 548.2 5.2 548.2 6.6V12.4M546.8 8H550.2" stroke="#505038" stroke-width="1" fill="none"/>
<path d="M552.2 7.3H555.8V11.299999999999999H559.8V14.9H555.8V18.9H552.2V14.9H548.2V11.299999999999999H552.2Z" fill="url(#gp)" stroke="#0a8a0a" stroke-width="1"/>
<path d="M566.1 8L571.3000000000001 8L568.7 11Z" fill="#000"/>
<circle cx="589.9" cy="9" r="6.9" fill="#eef1f6" stroke="#1a6fd8" stroke-width="2.2"/>
<circle cx="589.9" cy="9" r="7.9" fill="none" stroke="#0e4aa8" stroke-width="0.5"/>
<path d="M589.6 5.6V9.4H592.4" stroke="#303030" stroke-width="1.2" fill="none"/>
<path d="M589.9 3.4V4.2M589.9 13.8V14.6M584.3 9H585.1M594.7 9H595.5" stroke="#8aa0c0" stroke-width="0.8"/>
<path d="M604.8 8L610.0 8L607.4 11Z" fill="#000"/>
<rect x="621.4" y="2.4" width="15.4" height="13.2" fill="#fff" stroke="#3a70c0" stroke-width="1"/>
<rect x="621.9" y="2.9" width="14.4" height="1.8" fill="#5a98e0"/>
<rect x="621.9" y="9.9" width="14.4" height="0.9" fill="#7aa8e0"/>
<path d="M623.4 8.4L625.6 7.8L627.4 6.6L629.6 7.2L631.4 6.8L634.6 6" stroke="#a82010" stroke-width="1.2" fill="none"/>
<path d="M623.8 13.6L626 12.8L627.6 13.4L630 11.8L632 11.2L634.4 13.2" stroke="#18a030" stroke-width="1.1" fill="none"/>
<path d="M643.8 8L649.0 8L646.4 11Z" fill="#000"/>
<rect x="655" y="0" width="1" height="19" fill="#9a9a9a" shape-rendering="crispEdges"/>
<path d="M659 1.5h3M659 3.5h3M659 5.5h3M659 7.5h3M659 9.5h3M659 11.5h3M659 13.5h3M659 15.5h3M659 17.5h3" stroke="#a8a8a8" stroke-width="1" shape-rendering="crispEdges"/>
<rect x="666" y="0" width="24" height="19" fill="#fafafa" shape-rendering="crispEdges"/>
<path d="M672.4 2L672.4 13.6L675.2 11L677.2 15.6L679 14.8L677 10.4L680.8 10.2Z" fill="#333"/>
<path d="M705.3 2.2V16.4M698 9.3H712.6" stroke="#404040" stroke-width="1"/>
<rect x="703.8" y="7.8" width="3" height="3" fill="#f0f0f0"/>
<rect x="722" y="0" width="1" height="19" fill="#9a9a9a" shape-rendering="crispEdges"/>
<rect x="739" y="3" width="1" height="12.6" fill="#404040"/>
<rect x="761.5" y="9" width="12.4" height="1" fill="#404040"/>
<path d="M789.6 15.6L802.6 3.8" stroke="#505050" stroke-width="1.1"/>
<path d="M815.4 13.6L828.4 2.2M817.4 16L830.4 5M819.2 7.4L822 14M822.6 5L825.4 11.4M826 2.6L828.2 8.6" stroke="#505050" stroke-width="0.9" fill="none"/>
<text x="826.6" y="18" font-size="6.5" font-weight="bold" fill="#404040">E</text>
<path d="M844.6 2.5H857.6" stroke="#505050" stroke-width="1" stroke-dasharray="1 1"/>
<path d="M844.6 5.5H857.6" stroke="#505050" stroke-width="1" stroke-dasharray="1 1"/>
<path d="M844.6 8.5H857.6" stroke="#505050" stroke-width="1" stroke-dasharray="1 1"/>
<path d="M844.6 13.5H857.6" stroke="#505050" stroke-width="1" stroke-dasharray="1 1"/>
<text x="854.4" y="18" font-size="6.5" font-weight="bold" fill="#404040">F</text>
<text x="875.2" y="14" font-size="12.4" fill="#505050">A</text>
<rect x="901.4" y="3" width="12" height="12.4" fill="none" stroke="#606060" stroke-width="1" stroke-dasharray="1 1"/>
<path d="M903.8 5.6H911M907.4 5.6V13.4" stroke="#404040" stroke-width="1.6" fill="none"/>
<path d="M932 2.4L935.4 5.6L932 8.8L928.6 5.6Z M939.8 9.8L943.2 13L939.8 16.2L936.4 13Z" fill="#404040"/>
<path d="M933 9.4L936 12.4L940.4 6.2" stroke="#404040" stroke-width="1.3" fill="none"/>
<path d="M949.6 8L954.8000000000001 8L952.2 11Z" fill="#000"/>
<rect x="961" y="0" width="1" height="19" fill="#9a9a9a" shape-rendering="crispEdges"/>
<path d="M965 1.5h3M965 3.5h3M965 5.5h3M965 7.5h3M965 9.5h3M965 11.5h3M965 13.5h3M965 15.5h3M965 17.5h3" stroke="#a8a8a8" stroke-width="1" shape-rendering="crispEdges"/>
<text transform="translate(976.6 13) skewX(0.1)" font-size="9.7" fill="#404040">M1</text>
<text transform="translate(1004.7 13) skewX(0.1)" font-size="9.7" fill="#404040">M5</text>
<text transform="translate(1030.6 13) skewX(0.1)" font-size="9.7" fill="#404040">M15</text>
<text transform="translate(1058.6 13) skewX(0.1)" font-size="9.7" fill="#404040">M30</text>
<text transform="translate(1089.7 13) skewX(0.1)" font-size="9.7" fill="#404040">H1</text>
<text transform="translate(1116.5 13) skewX(0.1)" font-size="9.7" fill="#404040">H4</text>
<rect x="1139" y="0" width="1" height="19" fill="#9a9a9a" shape-rendering="crispEdges"/>
<rect x="1140" y="0" width="25" height="19" fill="#fafafa" shape-rendering="crispEdges"/>
<text transform="translate(1145.3 13) skewX(0.1)" font-size="9.7" fill="#404040">D1</text>
<text transform="translate(1173 13) skewX(0.1)" font-size="9.7" fill="#404040">W1</text>
<text transform="translate(1199.4 13) skewX(0.1)" font-size="9.7" fill="#404040">MN</text>
<rect x="1222" y="0" width="1" height="19" fill="#9a9a9a" shape-rendering="crispEdges"/>
<path d="M1689.4 10.2L1685 14.4" stroke="#1c4ec0" stroke-width="2.6" stroke-linecap="round"/>
<circle cx="1692.4" cy="6.2" r="3.6" fill="#f4f8ff" stroke="#2a5ed8" stroke-width="1.4"/>
<path d="M1727.8 12.4L1726.4 9.8" stroke="#8a8a90" stroke-width="1"/>
<ellipse cx="1725.4" cy="6" rx="6.2" ry="4.6" fill="#ececf2" stroke="#b4b4bc" stroke-width="0.9"/>
<path d="M1725 10.4L1728.4 13L1728 10Z" fill="#dcdce4" stroke="#a8a8b0" stroke-width="0.6"/>
<ellipse cx="1716.2" cy="9.6" rx="4.8" ry="3.7" fill="#ececf2" stroke="#b0b0b8" stroke-width="0.9"/>
<path d="M1714 12.6L1713.4 15.6L1716.4 13.2Z" fill="#dcdce4" stroke="#a0a0a8" stroke-width="0.6"/>
</svg>
</body></html>
